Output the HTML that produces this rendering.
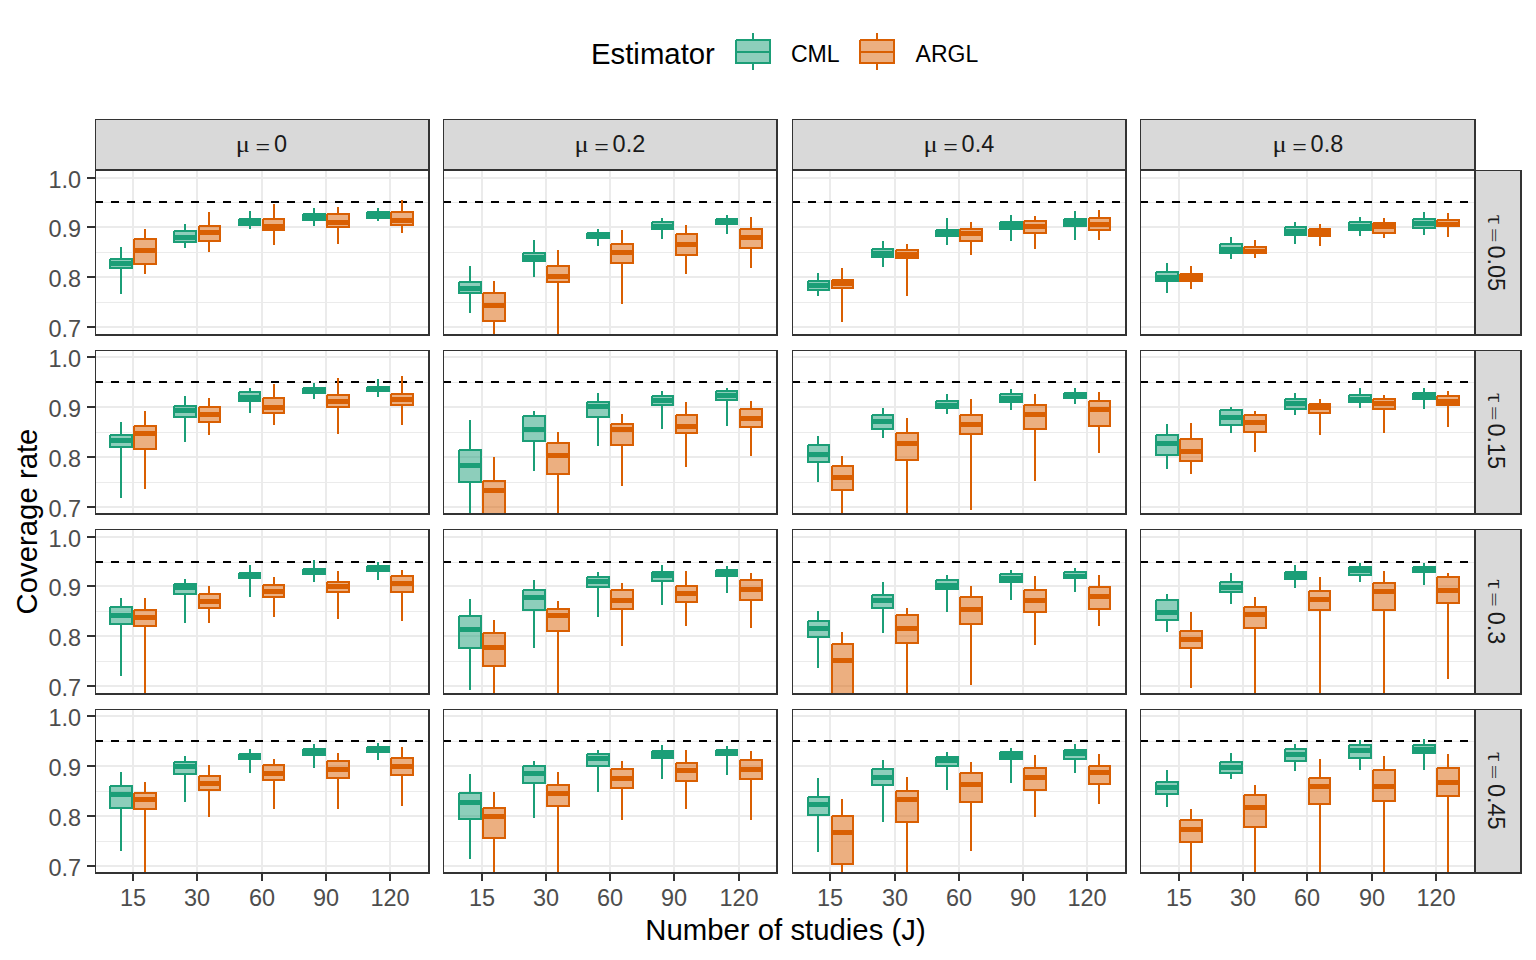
<!DOCTYPE html>
<html lang="en"><head><meta charset="utf-8"><title>Coverage rate by number of studies</title>
<style>html,body{margin:0;padding:0;background:#fff}svg{display:block}text{white-space:pre}</style></head>
<body><svg width="1536" height="960" viewBox="0 0 1536 960">
<rect width="1536" height="960" fill="#fff"/>
<g shape-rendering="crispEdges">
<defs>
<clipPath id="c00"><rect x="95" y="170" width="335" height="166"/></clipPath>
<clipPath id="c01"><rect x="443" y="170" width="335" height="166"/></clipPath>
<clipPath id="c02"><rect x="792" y="170" width="335" height="166"/></clipPath>
<clipPath id="c03"><rect x="1140" y="170" width="336" height="166"/></clipPath>
<clipPath id="c10"><rect x="95" y="350" width="335" height="165"/></clipPath>
<clipPath id="c11"><rect x="443" y="350" width="335" height="165"/></clipPath>
<clipPath id="c12"><rect x="792" y="350" width="335" height="165"/></clipPath>
<clipPath id="c13"><rect x="1140" y="350" width="336" height="165"/></clipPath>
<clipPath id="c20"><rect x="95" y="529" width="335" height="166"/></clipPath>
<clipPath id="c21"><rect x="443" y="529" width="335" height="166"/></clipPath>
<clipPath id="c22"><rect x="792" y="529" width="335" height="166"/></clipPath>
<clipPath id="c23"><rect x="1140" y="529" width="336" height="166"/></clipPath>
<clipPath id="c30"><rect x="95" y="709" width="335" height="165"/></clipPath>
<clipPath id="c31"><rect x="443" y="709" width="335" height="165"/></clipPath>
<clipPath id="c32"><rect x="792" y="709" width="335" height="165"/></clipPath>
<clipPath id="c33"><rect x="1140" y="709" width="336" height="165"/></clipPath>
</defs>
<rect x="95" y="119" width="335" height="51" fill="#D9D9D9"/>
<rect x="95" y="119" width="335" height="1" fill="#333333"/>
<rect x="95" y="119" width="1" height="51" fill="#333333"/>
<rect x="428" y="119" width="2" height="51" fill="#333333"/>
<rect x="95" y="169" width="335" height="1" fill="#333333"/>
<rect x="443" y="119" width="335" height="51" fill="#D9D9D9"/>
<rect x="443" y="119" width="335" height="1" fill="#333333"/>
<rect x="443" y="119" width="1" height="51" fill="#333333"/>
<rect x="776" y="119" width="2" height="51" fill="#333333"/>
<rect x="443" y="169" width="335" height="1" fill="#333333"/>
<rect x="792" y="119" width="335" height="51" fill="#D9D9D9"/>
<rect x="792" y="119" width="335" height="1" fill="#333333"/>
<rect x="792" y="119" width="1" height="51" fill="#333333"/>
<rect x="1125" y="119" width="2" height="51" fill="#333333"/>
<rect x="792" y="169" width="335" height="1" fill="#333333"/>
<rect x="1140" y="119" width="336" height="51" fill="#D9D9D9"/>
<rect x="1140" y="119" width="336" height="1" fill="#333333"/>
<rect x="1140" y="119" width="1" height="51" fill="#333333"/>
<rect x="1474" y="119" width="2" height="51" fill="#333333"/>
<rect x="1140" y="169" width="336" height="1" fill="#333333"/>
<rect x="1476" y="170" width="46" height="166" fill="#D9D9D9"/>
<rect x="1476" y="170" width="46" height="1" fill="#333333"/>
<rect x="1520" y="170" width="2" height="166" fill="#333333"/>
<rect x="1476" y="334" width="46" height="2" fill="#333333"/>
<rect x="1476" y="350" width="46" height="165" fill="#D9D9D9"/>
<rect x="1476" y="350" width="46" height="1" fill="#333333"/>
<rect x="1520" y="350" width="2" height="165" fill="#333333"/>
<rect x="1476" y="513" width="46" height="2" fill="#333333"/>
<rect x="1476" y="529" width="46" height="166" fill="#D9D9D9"/>
<rect x="1476" y="529" width="46" height="1" fill="#333333"/>
<rect x="1520" y="529" width="2" height="166" fill="#333333"/>
<rect x="1476" y="693" width="46" height="2" fill="#333333"/>
<rect x="1476" y="709" width="46" height="165" fill="#D9D9D9"/>
<rect x="1476" y="709" width="46" height="1" fill="#333333"/>
<rect x="1520" y="709" width="2" height="165" fill="#333333"/>
<rect x="1476" y="872" width="46" height="2" fill="#333333"/>
<g clip-path="url(#c00)">
<rect x="95" y="170" width="335" height="166" fill="#FFFFFF"/>
<rect x="95" y="202" width="335" height="1" fill="#EBEBEB"/>
<rect x="95" y="252" width="335" height="1" fill="#EBEBEB"/>
<rect x="95" y="302" width="335" height="1" fill="#EBEBEB"/>
<rect x="95" y="177" width="335" height="2" fill="#EBEBEB"/>
<rect x="95" y="226" width="335" height="2" fill="#EBEBEB"/>
<rect x="95" y="276" width="335" height="2" fill="#EBEBEB"/>
<rect x="95" y="326" width="335" height="2" fill="#EBEBEB"/>
<rect x="132" y="170" width="2" height="166" fill="#EBEBEB"/>
<rect x="196" y="170" width="2" height="166" fill="#EBEBEB"/>
<rect x="261" y="170" width="2" height="166" fill="#EBEBEB"/>
<rect x="325" y="170" width="2" height="166" fill="#EBEBEB"/>
<rect x="389" y="170" width="2" height="166" fill="#EBEBEB"/>
<rect x="95" y="201" width="8" height="2" fill="#000000"/>
<rect x="111" y="201" width="8" height="2" fill="#000000"/>
<rect x="127" y="201" width="8" height="2" fill="#000000"/>
<rect x="143" y="201" width="8" height="2" fill="#000000"/>
<rect x="159" y="201" width="8" height="2" fill="#000000"/>
<rect x="175" y="201" width="8" height="2" fill="#000000"/>
<rect x="191" y="201" width="8" height="2" fill="#000000"/>
<rect x="207" y="201" width="8" height="2" fill="#000000"/>
<rect x="223" y="201" width="8" height="2" fill="#000000"/>
<rect x="239" y="201" width="8" height="2" fill="#000000"/>
<rect x="255" y="201" width="8" height="2" fill="#000000"/>
<rect x="271" y="201" width="8" height="2" fill="#000000"/>
<rect x="287" y="201" width="8" height="2" fill="#000000"/>
<rect x="303" y="201" width="8" height="2" fill="#000000"/>
<rect x="319" y="201" width="8" height="2" fill="#000000"/>
<rect x="335" y="201" width="8" height="2" fill="#000000"/>
<rect x="351" y="201" width="8" height="2" fill="#000000"/>
<rect x="367" y="201" width="8" height="2" fill="#000000"/>
<rect x="383" y="201" width="8" height="2" fill="#000000"/>
<rect x="399" y="201" width="8" height="2" fill="#000000"/>
<rect x="415" y="201" width="8" height="2" fill="#000000"/>
<rect x="120" y="247" width="2" height="11" fill="#1B9E77"/>
<rect x="120" y="269" width="2" height="25" fill="#1B9E77"/>
<rect x="110" y="259" width="22" height="9" fill="#1B9E77" fill-opacity="0.5"/>
<rect x="110" y="258" width="23" height="1" fill="#1B9E77"/>
<rect x="109" y="259" width="24" height="1" fill="#1B9E77"/>
<rect x="109" y="267" width="24" height="2" fill="#1B9E77"/>
<rect x="109" y="259" width="1" height="10" fill="#1B9E77"/>
<rect x="110" y="258" width="1" height="11" fill="#1B9E77"/>
<rect x="131" y="258" width="2" height="11" fill="#1B9E77"/>
<rect x="109" y="261" width="24" height="5" fill="#1B9E77"/>
<rect x="144" y="229" width="2" height="9" fill="#D95F02"/>
<rect x="144" y="265" width="2" height="9" fill="#D95F02"/>
<rect x="134" y="239" width="22" height="25" fill="#D95F02" fill-opacity="0.5"/>
<rect x="134" y="238" width="23" height="1" fill="#D95F02"/>
<rect x="133" y="239" width="24" height="1" fill="#D95F02"/>
<rect x="133" y="263" width="24" height="2" fill="#D95F02"/>
<rect x="133" y="239" width="1" height="26" fill="#D95F02"/>
<rect x="134" y="238" width="1" height="27" fill="#D95F02"/>
<rect x="155" y="238" width="2" height="27" fill="#D95F02"/>
<rect x="133" y="248" width="24" height="5" fill="#D95F02"/>
<rect x="184" y="224" width="2" height="6" fill="#1B9E77"/>
<rect x="184" y="243" width="2" height="5" fill="#1B9E77"/>
<rect x="174" y="231" width="22" height="11" fill="#1B9E77" fill-opacity="0.5"/>
<rect x="174" y="230" width="23" height="1" fill="#1B9E77"/>
<rect x="173" y="231" width="24" height="1" fill="#1B9E77"/>
<rect x="173" y="241" width="24" height="2" fill="#1B9E77"/>
<rect x="173" y="231" width="1" height="12" fill="#1B9E77"/>
<rect x="174" y="230" width="1" height="13" fill="#1B9E77"/>
<rect x="195" y="230" width="2" height="13" fill="#1B9E77"/>
<rect x="173" y="235" width="24" height="5" fill="#1B9E77"/>
<rect x="208" y="212" width="2" height="13" fill="#D95F02"/>
<rect x="208" y="242" width="2" height="10" fill="#D95F02"/>
<rect x="199" y="226" width="21" height="15" fill="#D95F02" fill-opacity="0.5"/>
<rect x="199" y="225" width="22" height="1" fill="#D95F02"/>
<rect x="198" y="226" width="23" height="1" fill="#D95F02"/>
<rect x="198" y="240" width="23" height="2" fill="#D95F02"/>
<rect x="198" y="226" width="1" height="16" fill="#D95F02"/>
<rect x="199" y="225" width="1" height="17" fill="#D95F02"/>
<rect x="219" y="225" width="2" height="17" fill="#D95F02"/>
<rect x="198" y="230" width="23" height="5" fill="#D95F02"/>
<rect x="249" y="211" width="2" height="7" fill="#1B9E77"/>
<rect x="249" y="226" width="2" height="3" fill="#1B9E77"/>
<rect x="239" y="219" width="21" height="6" fill="#1B9E77" fill-opacity="0.5"/>
<rect x="239" y="218" width="22" height="1" fill="#1B9E77"/>
<rect x="238" y="219" width="23" height="1" fill="#1B9E77"/>
<rect x="238" y="224" width="23" height="2" fill="#1B9E77"/>
<rect x="238" y="219" width="1" height="7" fill="#1B9E77"/>
<rect x="239" y="218" width="1" height="8" fill="#1B9E77"/>
<rect x="259" y="218" width="2" height="8" fill="#1B9E77"/>
<rect x="238" y="219" width="23" height="5" fill="#1B9E77"/>
<rect x="273" y="204" width="2" height="14" fill="#D95F02"/>
<rect x="273" y="231" width="2" height="14" fill="#D95F02"/>
<rect x="263" y="219" width="21" height="11" fill="#D95F02" fill-opacity="0.5"/>
<rect x="263" y="218" width="22" height="1" fill="#D95F02"/>
<rect x="262" y="219" width="23" height="1" fill="#D95F02"/>
<rect x="262" y="229" width="23" height="2" fill="#D95F02"/>
<rect x="262" y="219" width="1" height="12" fill="#D95F02"/>
<rect x="263" y="218" width="1" height="13" fill="#D95F02"/>
<rect x="283" y="218" width="2" height="13" fill="#D95F02"/>
<rect x="262" y="224" width="23" height="5" fill="#D95F02"/>
<rect x="313" y="208" width="2" height="5" fill="#1B9E77"/>
<rect x="313" y="221" width="2" height="5" fill="#1B9E77"/>
<rect x="303" y="214" width="22" height="6" fill="#1B9E77" fill-opacity="0.5"/>
<rect x="303" y="213" width="23" height="1" fill="#1B9E77"/>
<rect x="302" y="214" width="24" height="1" fill="#1B9E77"/>
<rect x="302" y="219" width="24" height="2" fill="#1B9E77"/>
<rect x="302" y="214" width="1" height="7" fill="#1B9E77"/>
<rect x="303" y="213" width="1" height="8" fill="#1B9E77"/>
<rect x="324" y="213" width="2" height="8" fill="#1B9E77"/>
<rect x="302" y="214" width="24" height="5" fill="#1B9E77"/>
<rect x="337" y="207" width="2" height="6" fill="#D95F02"/>
<rect x="337" y="228" width="2" height="16" fill="#D95F02"/>
<rect x="327" y="214" width="22" height="13" fill="#D95F02" fill-opacity="0.5"/>
<rect x="327" y="213" width="23" height="1" fill="#D95F02"/>
<rect x="326" y="214" width="24" height="1" fill="#D95F02"/>
<rect x="326" y="226" width="24" height="2" fill="#D95F02"/>
<rect x="326" y="214" width="1" height="14" fill="#D95F02"/>
<rect x="327" y="213" width="1" height="15" fill="#D95F02"/>
<rect x="348" y="213" width="2" height="15" fill="#D95F02"/>
<rect x="326" y="220" width="24" height="5" fill="#D95F02"/>
<rect x="377" y="208" width="2" height="3" fill="#1B9E77"/>
<rect x="377" y="219" width="2" height="2" fill="#1B9E77"/>
<rect x="367" y="212" width="22" height="6" fill="#1B9E77" fill-opacity="0.5"/>
<rect x="367" y="211" width="23" height="1" fill="#1B9E77"/>
<rect x="366" y="212" width="24" height="1" fill="#1B9E77"/>
<rect x="366" y="217" width="24" height="2" fill="#1B9E77"/>
<rect x="366" y="212" width="1" height="7" fill="#1B9E77"/>
<rect x="367" y="211" width="1" height="8" fill="#1B9E77"/>
<rect x="388" y="211" width="2" height="8" fill="#1B9E77"/>
<rect x="366" y="213" width="24" height="5" fill="#1B9E77"/>
<rect x="401" y="200" width="2" height="11" fill="#D95F02"/>
<rect x="401" y="226" width="2" height="7" fill="#D95F02"/>
<rect x="391" y="212" width="22" height="13" fill="#D95F02" fill-opacity="0.5"/>
<rect x="391" y="211" width="23" height="1" fill="#D95F02"/>
<rect x="390" y="212" width="24" height="1" fill="#D95F02"/>
<rect x="390" y="224" width="24" height="2" fill="#D95F02"/>
<rect x="390" y="212" width="1" height="14" fill="#D95F02"/>
<rect x="391" y="211" width="1" height="15" fill="#D95F02"/>
<rect x="412" y="211" width="2" height="15" fill="#D95F02"/>
<rect x="390" y="218" width="24" height="5" fill="#D95F02"/>
</g>
<rect x="95" y="170" width="335" height="1" fill="#333333"/>
<rect x="95" y="170" width="1" height="166" fill="#333333"/>
<rect x="428" y="170" width="2" height="166" fill="#333333"/>
<rect x="95" y="334" width="335" height="2" fill="#333333"/>
<g clip-path="url(#c01)">
<rect x="443" y="170" width="335" height="166" fill="#FFFFFF"/>
<rect x="443" y="202" width="335" height="1" fill="#EBEBEB"/>
<rect x="443" y="252" width="335" height="1" fill="#EBEBEB"/>
<rect x="443" y="302" width="335" height="1" fill="#EBEBEB"/>
<rect x="443" y="177" width="335" height="2" fill="#EBEBEB"/>
<rect x="443" y="226" width="335" height="2" fill="#EBEBEB"/>
<rect x="443" y="276" width="335" height="2" fill="#EBEBEB"/>
<rect x="443" y="326" width="335" height="2" fill="#EBEBEB"/>
<rect x="481" y="170" width="2" height="166" fill="#EBEBEB"/>
<rect x="545" y="170" width="2" height="166" fill="#EBEBEB"/>
<rect x="609" y="170" width="2" height="166" fill="#EBEBEB"/>
<rect x="673" y="170" width="2" height="166" fill="#EBEBEB"/>
<rect x="738" y="170" width="2" height="166" fill="#EBEBEB"/>
<rect x="443" y="201" width="8" height="2" fill="#000000"/>
<rect x="459" y="201" width="8" height="2" fill="#000000"/>
<rect x="475" y="201" width="8" height="2" fill="#000000"/>
<rect x="491" y="201" width="8" height="2" fill="#000000"/>
<rect x="507" y="201" width="8" height="2" fill="#000000"/>
<rect x="523" y="201" width="8" height="2" fill="#000000"/>
<rect x="539" y="201" width="8" height="2" fill="#000000"/>
<rect x="555" y="201" width="8" height="2" fill="#000000"/>
<rect x="571" y="201" width="8" height="2" fill="#000000"/>
<rect x="587" y="201" width="8" height="2" fill="#000000"/>
<rect x="603" y="201" width="8" height="2" fill="#000000"/>
<rect x="619" y="201" width="8" height="2" fill="#000000"/>
<rect x="635" y="201" width="8" height="2" fill="#000000"/>
<rect x="651" y="201" width="8" height="2" fill="#000000"/>
<rect x="667" y="201" width="8" height="2" fill="#000000"/>
<rect x="683" y="201" width="8" height="2" fill="#000000"/>
<rect x="699" y="201" width="8" height="2" fill="#000000"/>
<rect x="715" y="201" width="8" height="2" fill="#000000"/>
<rect x="731" y="201" width="8" height="2" fill="#000000"/>
<rect x="747" y="201" width="8" height="2" fill="#000000"/>
<rect x="763" y="201" width="8" height="2" fill="#000000"/>
<rect x="469" y="266" width="2" height="15" fill="#1B9E77"/>
<rect x="469" y="294" width="2" height="19" fill="#1B9E77"/>
<rect x="459" y="282" width="22" height="11" fill="#1B9E77" fill-opacity="0.5"/>
<rect x="459" y="281" width="23" height="1" fill="#1B9E77"/>
<rect x="458" y="282" width="24" height="1" fill="#1B9E77"/>
<rect x="458" y="292" width="24" height="2" fill="#1B9E77"/>
<rect x="458" y="282" width="1" height="12" fill="#1B9E77"/>
<rect x="459" y="281" width="1" height="13" fill="#1B9E77"/>
<rect x="480" y="281" width="2" height="13" fill="#1B9E77"/>
<rect x="458" y="286" width="24" height="5" fill="#1B9E77"/>
<rect x="493" y="281" width="2" height="11" fill="#D95F02"/>
<rect x="493" y="322" width="2" height="583" fill="#D95F02"/>
<rect x="483" y="293" width="22" height="28" fill="#D95F02" fill-opacity="0.5"/>
<rect x="483" y="292" width="23" height="1" fill="#D95F02"/>
<rect x="482" y="293" width="24" height="1" fill="#D95F02"/>
<rect x="482" y="320" width="24" height="2" fill="#D95F02"/>
<rect x="482" y="293" width="1" height="29" fill="#D95F02"/>
<rect x="483" y="292" width="1" height="30" fill="#D95F02"/>
<rect x="504" y="292" width="2" height="30" fill="#D95F02"/>
<rect x="482" y="303" width="24" height="5" fill="#D95F02"/>
<rect x="533" y="240" width="2" height="12" fill="#1B9E77"/>
<rect x="533" y="262" width="2" height="15" fill="#1B9E77"/>
<rect x="523" y="253" width="22" height="8" fill="#1B9E77" fill-opacity="0.5"/>
<rect x="523" y="252" width="23" height="1" fill="#1B9E77"/>
<rect x="522" y="253" width="24" height="1" fill="#1B9E77"/>
<rect x="522" y="260" width="24" height="2" fill="#1B9E77"/>
<rect x="522" y="253" width="1" height="9" fill="#1B9E77"/>
<rect x="523" y="252" width="1" height="10" fill="#1B9E77"/>
<rect x="544" y="252" width="2" height="10" fill="#1B9E77"/>
<rect x="522" y="255" width="24" height="5" fill="#1B9E77"/>
<rect x="557" y="250" width="2" height="15" fill="#D95F02"/>
<rect x="557" y="283" width="2" height="622" fill="#D95F02"/>
<rect x="547" y="266" width="22" height="16" fill="#D95F02" fill-opacity="0.5"/>
<rect x="547" y="265" width="23" height="1" fill="#D95F02"/>
<rect x="546" y="266" width="24" height="1" fill="#D95F02"/>
<rect x="546" y="281" width="24" height="2" fill="#D95F02"/>
<rect x="546" y="266" width="1" height="17" fill="#D95F02"/>
<rect x="547" y="265" width="1" height="18" fill="#D95F02"/>
<rect x="568" y="265" width="2" height="18" fill="#D95F02"/>
<rect x="546" y="274" width="24" height="5" fill="#D95F02"/>
<rect x="597" y="229" width="2" height="3" fill="#1B9E77"/>
<rect x="597" y="239" width="2" height="7" fill="#1B9E77"/>
<rect x="587" y="233" width="22" height="5" fill="#1B9E77" fill-opacity="0.5"/>
<rect x="587" y="232" width="23" height="1" fill="#1B9E77"/>
<rect x="586" y="233" width="24" height="1" fill="#1B9E77"/>
<rect x="586" y="237" width="24" height="2" fill="#1B9E77"/>
<rect x="586" y="233" width="1" height="6" fill="#1B9E77"/>
<rect x="587" y="232" width="1" height="7" fill="#1B9E77"/>
<rect x="608" y="232" width="2" height="7" fill="#1B9E77"/>
<rect x="586" y="233" width="24" height="5" fill="#1B9E77"/>
<rect x="621" y="230" width="2" height="13" fill="#D95F02"/>
<rect x="621" y="264" width="2" height="40" fill="#D95F02"/>
<rect x="611" y="244" width="22" height="19" fill="#D95F02" fill-opacity="0.5"/>
<rect x="611" y="243" width="23" height="1" fill="#D95F02"/>
<rect x="610" y="244" width="24" height="1" fill="#D95F02"/>
<rect x="610" y="262" width="24" height="2" fill="#D95F02"/>
<rect x="610" y="244" width="1" height="20" fill="#D95F02"/>
<rect x="611" y="243" width="1" height="21" fill="#D95F02"/>
<rect x="632" y="243" width="2" height="21" fill="#D95F02"/>
<rect x="610" y="250" width="24" height="5" fill="#D95F02"/>
<rect x="661" y="218" width="2" height="3" fill="#1B9E77"/>
<rect x="661" y="230" width="2" height="9" fill="#1B9E77"/>
<rect x="652" y="222" width="21" height="7" fill="#1B9E77" fill-opacity="0.5"/>
<rect x="652" y="221" width="22" height="1" fill="#1B9E77"/>
<rect x="651" y="222" width="23" height="1" fill="#1B9E77"/>
<rect x="651" y="228" width="23" height="2" fill="#1B9E77"/>
<rect x="651" y="222" width="1" height="8" fill="#1B9E77"/>
<rect x="652" y="221" width="1" height="9" fill="#1B9E77"/>
<rect x="672" y="221" width="2" height="9" fill="#1B9E77"/>
<rect x="651" y="224" width="23" height="5" fill="#1B9E77"/>
<rect x="685" y="225" width="2" height="8" fill="#D95F02"/>
<rect x="685" y="256" width="2" height="18" fill="#D95F02"/>
<rect x="676" y="234" width="21" height="21" fill="#D95F02" fill-opacity="0.5"/>
<rect x="676" y="233" width="22" height="1" fill="#D95F02"/>
<rect x="675" y="234" width="23" height="1" fill="#D95F02"/>
<rect x="675" y="254" width="23" height="2" fill="#D95F02"/>
<rect x="675" y="234" width="1" height="22" fill="#D95F02"/>
<rect x="676" y="233" width="1" height="23" fill="#D95F02"/>
<rect x="696" y="233" width="2" height="23" fill="#D95F02"/>
<rect x="675" y="242" width="23" height="5" fill="#D95F02"/>
<rect x="726" y="215" width="2" height="3" fill="#1B9E77"/>
<rect x="726" y="225" width="2" height="9" fill="#1B9E77"/>
<rect x="716" y="219" width="21" height="5" fill="#1B9E77" fill-opacity="0.5"/>
<rect x="716" y="218" width="22" height="1" fill="#1B9E77"/>
<rect x="715" y="219" width="23" height="1" fill="#1B9E77"/>
<rect x="715" y="223" width="23" height="2" fill="#1B9E77"/>
<rect x="715" y="219" width="1" height="6" fill="#1B9E77"/>
<rect x="716" y="218" width="1" height="7" fill="#1B9E77"/>
<rect x="736" y="218" width="2" height="7" fill="#1B9E77"/>
<rect x="715" y="219" width="23" height="5" fill="#1B9E77"/>
<rect x="750" y="217" width="2" height="11" fill="#D95F02"/>
<rect x="750" y="249" width="2" height="19" fill="#D95F02"/>
<rect x="740" y="229" width="22" height="19" fill="#D95F02" fill-opacity="0.5"/>
<rect x="740" y="228" width="23" height="1" fill="#D95F02"/>
<rect x="739" y="229" width="24" height="1" fill="#D95F02"/>
<rect x="739" y="247" width="24" height="2" fill="#D95F02"/>
<rect x="739" y="229" width="1" height="20" fill="#D95F02"/>
<rect x="740" y="228" width="1" height="21" fill="#D95F02"/>
<rect x="761" y="228" width="2" height="21" fill="#D95F02"/>
<rect x="739" y="235" width="24" height="5" fill="#D95F02"/>
</g>
<rect x="443" y="170" width="335" height="1" fill="#333333"/>
<rect x="443" y="170" width="1" height="166" fill="#333333"/>
<rect x="776" y="170" width="2" height="166" fill="#333333"/>
<rect x="443" y="334" width="335" height="2" fill="#333333"/>
<g clip-path="url(#c02)">
<rect x="792" y="170" width="335" height="166" fill="#FFFFFF"/>
<rect x="792" y="202" width="335" height="1" fill="#EBEBEB"/>
<rect x="792" y="252" width="335" height="1" fill="#EBEBEB"/>
<rect x="792" y="302" width="335" height="1" fill="#EBEBEB"/>
<rect x="792" y="177" width="335" height="2" fill="#EBEBEB"/>
<rect x="792" y="226" width="335" height="2" fill="#EBEBEB"/>
<rect x="792" y="276" width="335" height="2" fill="#EBEBEB"/>
<rect x="792" y="326" width="335" height="2" fill="#EBEBEB"/>
<rect x="829" y="170" width="2" height="166" fill="#EBEBEB"/>
<rect x="894" y="170" width="2" height="166" fill="#EBEBEB"/>
<rect x="958" y="170" width="2" height="166" fill="#EBEBEB"/>
<rect x="1022" y="170" width="2" height="166" fill="#EBEBEB"/>
<rect x="1086" y="170" width="2" height="166" fill="#EBEBEB"/>
<rect x="792" y="201" width="8" height="2" fill="#000000"/>
<rect x="808" y="201" width="8" height="2" fill="#000000"/>
<rect x="824" y="201" width="8" height="2" fill="#000000"/>
<rect x="840" y="201" width="8" height="2" fill="#000000"/>
<rect x="856" y="201" width="8" height="2" fill="#000000"/>
<rect x="872" y="201" width="8" height="2" fill="#000000"/>
<rect x="888" y="201" width="8" height="2" fill="#000000"/>
<rect x="904" y="201" width="8" height="2" fill="#000000"/>
<rect x="920" y="201" width="8" height="2" fill="#000000"/>
<rect x="936" y="201" width="8" height="2" fill="#000000"/>
<rect x="952" y="201" width="8" height="2" fill="#000000"/>
<rect x="968" y="201" width="8" height="2" fill="#000000"/>
<rect x="984" y="201" width="8" height="2" fill="#000000"/>
<rect x="1000" y="201" width="8" height="2" fill="#000000"/>
<rect x="1016" y="201" width="8" height="2" fill="#000000"/>
<rect x="1032" y="201" width="8" height="2" fill="#000000"/>
<rect x="1048" y="201" width="8" height="2" fill="#000000"/>
<rect x="1064" y="201" width="8" height="2" fill="#000000"/>
<rect x="1080" y="201" width="8" height="2" fill="#000000"/>
<rect x="1096" y="201" width="8" height="2" fill="#000000"/>
<rect x="1112" y="201" width="8" height="2" fill="#000000"/>
<rect x="817" y="273" width="2" height="7" fill="#1B9E77"/>
<rect x="817" y="291" width="2" height="5" fill="#1B9E77"/>
<rect x="808" y="281" width="21" height="9" fill="#1B9E77" fill-opacity="0.5"/>
<rect x="808" y="280" width="22" height="1" fill="#1B9E77"/>
<rect x="807" y="281" width="23" height="1" fill="#1B9E77"/>
<rect x="807" y="289" width="23" height="2" fill="#1B9E77"/>
<rect x="807" y="281" width="1" height="10" fill="#1B9E77"/>
<rect x="808" y="280" width="1" height="11" fill="#1B9E77"/>
<rect x="828" y="280" width="2" height="11" fill="#1B9E77"/>
<rect x="807" y="283" width="23" height="5" fill="#1B9E77"/>
<rect x="841" y="268" width="2" height="11" fill="#D95F02"/>
<rect x="841" y="289" width="2" height="33" fill="#D95F02"/>
<rect x="832" y="280" width="21" height="8" fill="#D95F02" fill-opacity="0.5"/>
<rect x="832" y="279" width="22" height="1" fill="#D95F02"/>
<rect x="831" y="280" width="23" height="1" fill="#D95F02"/>
<rect x="831" y="287" width="23" height="2" fill="#D95F02"/>
<rect x="831" y="280" width="1" height="9" fill="#D95F02"/>
<rect x="832" y="279" width="1" height="10" fill="#D95F02"/>
<rect x="852" y="279" width="2" height="10" fill="#D95F02"/>
<rect x="831" y="281" width="23" height="5" fill="#D95F02"/>
<rect x="882" y="241" width="2" height="7" fill="#1B9E77"/>
<rect x="882" y="258" width="2" height="9" fill="#1B9E77"/>
<rect x="872" y="249" width="21" height="8" fill="#1B9E77" fill-opacity="0.5"/>
<rect x="872" y="248" width="22" height="1" fill="#1B9E77"/>
<rect x="871" y="249" width="23" height="1" fill="#1B9E77"/>
<rect x="871" y="256" width="23" height="2" fill="#1B9E77"/>
<rect x="871" y="249" width="1" height="9" fill="#1B9E77"/>
<rect x="872" y="248" width="1" height="10" fill="#1B9E77"/>
<rect x="892" y="248" width="2" height="10" fill="#1B9E77"/>
<rect x="871" y="251" width="23" height="5" fill="#1B9E77"/>
<rect x="906" y="244" width="2" height="5" fill="#D95F02"/>
<rect x="906" y="259" width="2" height="37" fill="#D95F02"/>
<rect x="896" y="250" width="22" height="8" fill="#D95F02" fill-opacity="0.5"/>
<rect x="896" y="249" width="23" height="1" fill="#D95F02"/>
<rect x="895" y="250" width="24" height="1" fill="#D95F02"/>
<rect x="895" y="257" width="24" height="2" fill="#D95F02"/>
<rect x="895" y="250" width="1" height="9" fill="#D95F02"/>
<rect x="896" y="249" width="1" height="10" fill="#D95F02"/>
<rect x="917" y="249" width="2" height="10" fill="#D95F02"/>
<rect x="895" y="252" width="24" height="5" fill="#D95F02"/>
<rect x="946" y="218" width="2" height="11" fill="#1B9E77"/>
<rect x="946" y="237" width="2" height="8" fill="#1B9E77"/>
<rect x="936" y="230" width="22" height="6" fill="#1B9E77" fill-opacity="0.5"/>
<rect x="936" y="229" width="23" height="1" fill="#1B9E77"/>
<rect x="935" y="230" width="24" height="1" fill="#1B9E77"/>
<rect x="935" y="235" width="24" height="2" fill="#1B9E77"/>
<rect x="935" y="230" width="1" height="7" fill="#1B9E77"/>
<rect x="936" y="229" width="1" height="8" fill="#1B9E77"/>
<rect x="957" y="229" width="2" height="8" fill="#1B9E77"/>
<rect x="935" y="230" width="24" height="5" fill="#1B9E77"/>
<rect x="970" y="222" width="2" height="6" fill="#D95F02"/>
<rect x="970" y="242" width="2" height="13" fill="#D95F02"/>
<rect x="960" y="229" width="22" height="12" fill="#D95F02" fill-opacity="0.5"/>
<rect x="960" y="228" width="23" height="1" fill="#D95F02"/>
<rect x="959" y="229" width="24" height="1" fill="#D95F02"/>
<rect x="959" y="240" width="24" height="2" fill="#D95F02"/>
<rect x="959" y="229" width="1" height="13" fill="#D95F02"/>
<rect x="960" y="228" width="1" height="14" fill="#D95F02"/>
<rect x="981" y="228" width="2" height="14" fill="#D95F02"/>
<rect x="959" y="231" width="24" height="5" fill="#D95F02"/>
<rect x="1010" y="215" width="2" height="6" fill="#1B9E77"/>
<rect x="1010" y="230" width="2" height="11" fill="#1B9E77"/>
<rect x="1000" y="222" width="22" height="7" fill="#1B9E77" fill-opacity="0.5"/>
<rect x="1000" y="221" width="23" height="1" fill="#1B9E77"/>
<rect x="999" y="222" width="24" height="1" fill="#1B9E77"/>
<rect x="999" y="228" width="24" height="2" fill="#1B9E77"/>
<rect x="999" y="222" width="1" height="8" fill="#1B9E77"/>
<rect x="1000" y="221" width="1" height="9" fill="#1B9E77"/>
<rect x="1021" y="221" width="2" height="9" fill="#1B9E77"/>
<rect x="999" y="223" width="24" height="5" fill="#1B9E77"/>
<rect x="1034" y="216" width="2" height="4" fill="#D95F02"/>
<rect x="1034" y="234" width="2" height="15" fill="#D95F02"/>
<rect x="1024" y="221" width="22" height="12" fill="#D95F02" fill-opacity="0.5"/>
<rect x="1024" y="220" width="23" height="1" fill="#D95F02"/>
<rect x="1023" y="221" width="24" height="1" fill="#D95F02"/>
<rect x="1023" y="232" width="24" height="2" fill="#D95F02"/>
<rect x="1023" y="221" width="1" height="13" fill="#D95F02"/>
<rect x="1024" y="220" width="1" height="14" fill="#D95F02"/>
<rect x="1045" y="220" width="2" height="14" fill="#D95F02"/>
<rect x="1023" y="224" width="24" height="5" fill="#D95F02"/>
<rect x="1074" y="211" width="2" height="7" fill="#1B9E77"/>
<rect x="1074" y="227" width="2" height="13" fill="#1B9E77"/>
<rect x="1064" y="219" width="22" height="7" fill="#1B9E77" fill-opacity="0.5"/>
<rect x="1064" y="218" width="23" height="1" fill="#1B9E77"/>
<rect x="1063" y="219" width="24" height="1" fill="#1B9E77"/>
<rect x="1063" y="225" width="24" height="2" fill="#1B9E77"/>
<rect x="1063" y="219" width="1" height="8" fill="#1B9E77"/>
<rect x="1064" y="218" width="1" height="9" fill="#1B9E77"/>
<rect x="1085" y="218" width="2" height="9" fill="#1B9E77"/>
<rect x="1063" y="220" width="24" height="5" fill="#1B9E77"/>
<rect x="1098" y="210" width="2" height="7" fill="#D95F02"/>
<rect x="1098" y="231" width="2" height="9" fill="#D95F02"/>
<rect x="1089" y="218" width="21" height="12" fill="#D95F02" fill-opacity="0.5"/>
<rect x="1089" y="217" width="22" height="1" fill="#D95F02"/>
<rect x="1088" y="218" width="23" height="1" fill="#D95F02"/>
<rect x="1088" y="229" width="23" height="2" fill="#D95F02"/>
<rect x="1088" y="218" width="1" height="13" fill="#D95F02"/>
<rect x="1089" y="217" width="1" height="14" fill="#D95F02"/>
<rect x="1109" y="217" width="2" height="14" fill="#D95F02"/>
<rect x="1088" y="222" width="23" height="5" fill="#D95F02"/>
</g>
<rect x="792" y="170" width="335" height="1" fill="#333333"/>
<rect x="792" y="170" width="1" height="166" fill="#333333"/>
<rect x="1125" y="170" width="2" height="166" fill="#333333"/>
<rect x="792" y="334" width="335" height="2" fill="#333333"/>
<g clip-path="url(#c03)">
<rect x="1140" y="170" width="336" height="166" fill="#FFFFFF"/>
<rect x="1140" y="202" width="336" height="1" fill="#EBEBEB"/>
<rect x="1140" y="252" width="336" height="1" fill="#EBEBEB"/>
<rect x="1140" y="302" width="336" height="1" fill="#EBEBEB"/>
<rect x="1140" y="177" width="336" height="2" fill="#EBEBEB"/>
<rect x="1140" y="226" width="336" height="2" fill="#EBEBEB"/>
<rect x="1140" y="276" width="336" height="2" fill="#EBEBEB"/>
<rect x="1140" y="326" width="336" height="2" fill="#EBEBEB"/>
<rect x="1178" y="170" width="2" height="166" fill="#EBEBEB"/>
<rect x="1242" y="170" width="2" height="166" fill="#EBEBEB"/>
<rect x="1306" y="170" width="2" height="166" fill="#EBEBEB"/>
<rect x="1371" y="170" width="2" height="166" fill="#EBEBEB"/>
<rect x="1435" y="170" width="2" height="166" fill="#EBEBEB"/>
<rect x="1140" y="201" width="8" height="2" fill="#000000"/>
<rect x="1156" y="201" width="8" height="2" fill="#000000"/>
<rect x="1172" y="201" width="8" height="2" fill="#000000"/>
<rect x="1188" y="201" width="8" height="2" fill="#000000"/>
<rect x="1204" y="201" width="8" height="2" fill="#000000"/>
<rect x="1220" y="201" width="8" height="2" fill="#000000"/>
<rect x="1236" y="201" width="8" height="2" fill="#000000"/>
<rect x="1252" y="201" width="8" height="2" fill="#000000"/>
<rect x="1268" y="201" width="8" height="2" fill="#000000"/>
<rect x="1284" y="201" width="8" height="2" fill="#000000"/>
<rect x="1300" y="201" width="8" height="2" fill="#000000"/>
<rect x="1316" y="201" width="8" height="2" fill="#000000"/>
<rect x="1332" y="201" width="8" height="2" fill="#000000"/>
<rect x="1348" y="201" width="8" height="2" fill="#000000"/>
<rect x="1364" y="201" width="8" height="2" fill="#000000"/>
<rect x="1380" y="201" width="8" height="2" fill="#000000"/>
<rect x="1396" y="201" width="8" height="2" fill="#000000"/>
<rect x="1412" y="201" width="8" height="2" fill="#000000"/>
<rect x="1428" y="201" width="8" height="2" fill="#000000"/>
<rect x="1444" y="201" width="8" height="2" fill="#000000"/>
<rect x="1460" y="201" width="8" height="2" fill="#000000"/>
<rect x="1166" y="263" width="2" height="8" fill="#1B9E77"/>
<rect x="1166" y="282" width="2" height="11" fill="#1B9E77"/>
<rect x="1156" y="272" width="22" height="9" fill="#1B9E77" fill-opacity="0.5"/>
<rect x="1156" y="271" width="23" height="1" fill="#1B9E77"/>
<rect x="1155" y="272" width="24" height="1" fill="#1B9E77"/>
<rect x="1155" y="280" width="24" height="2" fill="#1B9E77"/>
<rect x="1155" y="272" width="1" height="10" fill="#1B9E77"/>
<rect x="1156" y="271" width="1" height="11" fill="#1B9E77"/>
<rect x="1177" y="271" width="2" height="11" fill="#1B9E77"/>
<rect x="1155" y="275" width="24" height="5" fill="#1B9E77"/>
<rect x="1190" y="266" width="2" height="7" fill="#D95F02"/>
<rect x="1190" y="282" width="2" height="7" fill="#D95F02"/>
<rect x="1180" y="274" width="22" height="7" fill="#D95F02" fill-opacity="0.5"/>
<rect x="1180" y="273" width="23" height="1" fill="#D95F02"/>
<rect x="1179" y="274" width="24" height="1" fill="#D95F02"/>
<rect x="1179" y="280" width="24" height="2" fill="#D95F02"/>
<rect x="1179" y="274" width="1" height="8" fill="#D95F02"/>
<rect x="1180" y="273" width="1" height="9" fill="#D95F02"/>
<rect x="1201" y="273" width="2" height="9" fill="#D95F02"/>
<rect x="1179" y="275" width="24" height="5" fill="#D95F02"/>
<rect x="1230" y="237" width="2" height="6" fill="#1B9E77"/>
<rect x="1230" y="254" width="2" height="5" fill="#1B9E77"/>
<rect x="1220" y="244" width="22" height="9" fill="#1B9E77" fill-opacity="0.5"/>
<rect x="1220" y="243" width="23" height="1" fill="#1B9E77"/>
<rect x="1219" y="244" width="24" height="1" fill="#1B9E77"/>
<rect x="1219" y="252" width="24" height="2" fill="#1B9E77"/>
<rect x="1219" y="244" width="1" height="10" fill="#1B9E77"/>
<rect x="1220" y="243" width="1" height="11" fill="#1B9E77"/>
<rect x="1241" y="243" width="2" height="11" fill="#1B9E77"/>
<rect x="1219" y="247" width="24" height="5" fill="#1B9E77"/>
<rect x="1254" y="240" width="2" height="6" fill="#D95F02"/>
<rect x="1254" y="254" width="2" height="4" fill="#D95F02"/>
<rect x="1244" y="247" width="22" height="6" fill="#D95F02" fill-opacity="0.5"/>
<rect x="1244" y="246" width="23" height="1" fill="#D95F02"/>
<rect x="1243" y="247" width="24" height="1" fill="#D95F02"/>
<rect x="1243" y="252" width="24" height="2" fill="#D95F02"/>
<rect x="1243" y="247" width="1" height="7" fill="#D95F02"/>
<rect x="1244" y="246" width="1" height="8" fill="#D95F02"/>
<rect x="1265" y="246" width="2" height="8" fill="#D95F02"/>
<rect x="1243" y="249" width="24" height="5" fill="#D95F02"/>
<rect x="1294" y="222" width="2" height="4" fill="#1B9E77"/>
<rect x="1294" y="236" width="2" height="8" fill="#1B9E77"/>
<rect x="1285" y="227" width="21" height="8" fill="#1B9E77" fill-opacity="0.5"/>
<rect x="1285" y="226" width="22" height="1" fill="#1B9E77"/>
<rect x="1284" y="227" width="23" height="1" fill="#1B9E77"/>
<rect x="1284" y="234" width="23" height="2" fill="#1B9E77"/>
<rect x="1284" y="227" width="1" height="9" fill="#1B9E77"/>
<rect x="1285" y="226" width="1" height="10" fill="#1B9E77"/>
<rect x="1305" y="226" width="2" height="10" fill="#1B9E77"/>
<rect x="1284" y="229" width="23" height="5" fill="#1B9E77"/>
<rect x="1319" y="224" width="2" height="4" fill="#D95F02"/>
<rect x="1319" y="237" width="2" height="9" fill="#D95F02"/>
<rect x="1309" y="229" width="21" height="7" fill="#D95F02" fill-opacity="0.5"/>
<rect x="1309" y="228" width="22" height="1" fill="#D95F02"/>
<rect x="1308" y="229" width="23" height="1" fill="#D95F02"/>
<rect x="1308" y="235" width="23" height="2" fill="#D95F02"/>
<rect x="1308" y="229" width="1" height="8" fill="#D95F02"/>
<rect x="1309" y="228" width="1" height="9" fill="#D95F02"/>
<rect x="1329" y="228" width="2" height="9" fill="#D95F02"/>
<rect x="1308" y="230" width="23" height="5" fill="#D95F02"/>
<rect x="1359" y="217" width="2" height="4" fill="#1B9E77"/>
<rect x="1359" y="231" width="2" height="5" fill="#1B9E77"/>
<rect x="1349" y="222" width="22" height="8" fill="#1B9E77" fill-opacity="0.5"/>
<rect x="1349" y="221" width="23" height="1" fill="#1B9E77"/>
<rect x="1348" y="222" width="24" height="1" fill="#1B9E77"/>
<rect x="1348" y="229" width="24" height="2" fill="#1B9E77"/>
<rect x="1348" y="222" width="1" height="9" fill="#1B9E77"/>
<rect x="1349" y="221" width="1" height="10" fill="#1B9E77"/>
<rect x="1370" y="221" width="2" height="10" fill="#1B9E77"/>
<rect x="1348" y="224" width="24" height="5" fill="#1B9E77"/>
<rect x="1383" y="218" width="2" height="4" fill="#D95F02"/>
<rect x="1383" y="234" width="2" height="4" fill="#D95F02"/>
<rect x="1373" y="223" width="22" height="10" fill="#D95F02" fill-opacity="0.5"/>
<rect x="1373" y="222" width="23" height="1" fill="#D95F02"/>
<rect x="1372" y="223" width="24" height="1" fill="#D95F02"/>
<rect x="1372" y="232" width="24" height="2" fill="#D95F02"/>
<rect x="1372" y="223" width="1" height="11" fill="#D95F02"/>
<rect x="1373" y="222" width="1" height="12" fill="#D95F02"/>
<rect x="1394" y="222" width="2" height="12" fill="#D95F02"/>
<rect x="1372" y="224" width="24" height="5" fill="#D95F02"/>
<rect x="1423" y="212" width="2" height="6" fill="#1B9E77"/>
<rect x="1423" y="229" width="2" height="6" fill="#1B9E77"/>
<rect x="1413" y="219" width="22" height="9" fill="#1B9E77" fill-opacity="0.5"/>
<rect x="1413" y="218" width="23" height="1" fill="#1B9E77"/>
<rect x="1412" y="219" width="24" height="1" fill="#1B9E77"/>
<rect x="1412" y="227" width="24" height="2" fill="#1B9E77"/>
<rect x="1412" y="219" width="1" height="10" fill="#1B9E77"/>
<rect x="1413" y="218" width="1" height="11" fill="#1B9E77"/>
<rect x="1434" y="218" width="2" height="11" fill="#1B9E77"/>
<rect x="1412" y="221" width="24" height="5" fill="#1B9E77"/>
<rect x="1447" y="213" width="2" height="6" fill="#D95F02"/>
<rect x="1447" y="227" width="2" height="10" fill="#D95F02"/>
<rect x="1437" y="220" width="22" height="6" fill="#D95F02" fill-opacity="0.5"/>
<rect x="1437" y="219" width="23" height="1" fill="#D95F02"/>
<rect x="1436" y="220" width="24" height="1" fill="#D95F02"/>
<rect x="1436" y="225" width="24" height="2" fill="#D95F02"/>
<rect x="1436" y="220" width="1" height="7" fill="#D95F02"/>
<rect x="1437" y="219" width="1" height="8" fill="#D95F02"/>
<rect x="1458" y="219" width="2" height="8" fill="#D95F02"/>
<rect x="1436" y="222" width="24" height="5" fill="#D95F02"/>
</g>
<rect x="1140" y="170" width="336" height="1" fill="#333333"/>
<rect x="1140" y="170" width="1" height="166" fill="#333333"/>
<rect x="1474" y="170" width="2" height="166" fill="#333333"/>
<rect x="1140" y="334" width="336" height="2" fill="#333333"/>
<rect x="87" y="177" width="8" height="2" fill="#333333"/>
<rect x="87" y="226" width="8" height="2" fill="#333333"/>
<rect x="87" y="276" width="8" height="2" fill="#333333"/>
<rect x="87" y="326" width="8" height="2" fill="#333333"/>
<g clip-path="url(#c10)">
<rect x="95" y="350" width="335" height="165" fill="#FFFFFF"/>
<rect x="95" y="382" width="335" height="1" fill="#EBEBEB"/>
<rect x="95" y="432" width="335" height="1" fill="#EBEBEB"/>
<rect x="95" y="482" width="335" height="1" fill="#EBEBEB"/>
<rect x="95" y="356" width="335" height="2" fill="#EBEBEB"/>
<rect x="95" y="406" width="335" height="2" fill="#EBEBEB"/>
<rect x="95" y="456" width="335" height="2" fill="#EBEBEB"/>
<rect x="95" y="506" width="335" height="2" fill="#EBEBEB"/>
<rect x="132" y="350" width="2" height="165" fill="#EBEBEB"/>
<rect x="196" y="350" width="2" height="165" fill="#EBEBEB"/>
<rect x="261" y="350" width="2" height="165" fill="#EBEBEB"/>
<rect x="325" y="350" width="2" height="165" fill="#EBEBEB"/>
<rect x="389" y="350" width="2" height="165" fill="#EBEBEB"/>
<rect x="95" y="381" width="8" height="2" fill="#000000"/>
<rect x="111" y="381" width="8" height="2" fill="#000000"/>
<rect x="127" y="381" width="8" height="2" fill="#000000"/>
<rect x="143" y="381" width="8" height="2" fill="#000000"/>
<rect x="159" y="381" width="8" height="2" fill="#000000"/>
<rect x="175" y="381" width="8" height="2" fill="#000000"/>
<rect x="191" y="381" width="8" height="2" fill="#000000"/>
<rect x="207" y="381" width="8" height="2" fill="#000000"/>
<rect x="223" y="381" width="8" height="2" fill="#000000"/>
<rect x="239" y="381" width="8" height="2" fill="#000000"/>
<rect x="255" y="381" width="8" height="2" fill="#000000"/>
<rect x="271" y="381" width="8" height="2" fill="#000000"/>
<rect x="287" y="381" width="8" height="2" fill="#000000"/>
<rect x="303" y="381" width="8" height="2" fill="#000000"/>
<rect x="319" y="381" width="8" height="2" fill="#000000"/>
<rect x="335" y="381" width="8" height="2" fill="#000000"/>
<rect x="351" y="381" width="8" height="2" fill="#000000"/>
<rect x="367" y="381" width="8" height="2" fill="#000000"/>
<rect x="383" y="381" width="8" height="2" fill="#000000"/>
<rect x="399" y="381" width="8" height="2" fill="#000000"/>
<rect x="415" y="381" width="8" height="2" fill="#000000"/>
<rect x="120" y="422" width="2" height="12" fill="#1B9E77"/>
<rect x="120" y="448" width="2" height="50" fill="#1B9E77"/>
<rect x="110" y="435" width="22" height="12" fill="#1B9E77" fill-opacity="0.5"/>
<rect x="110" y="434" width="23" height="1" fill="#1B9E77"/>
<rect x="109" y="435" width="24" height="1" fill="#1B9E77"/>
<rect x="109" y="446" width="24" height="2" fill="#1B9E77"/>
<rect x="109" y="435" width="1" height="13" fill="#1B9E77"/>
<rect x="110" y="434" width="1" height="14" fill="#1B9E77"/>
<rect x="131" y="434" width="2" height="14" fill="#1B9E77"/>
<rect x="109" y="438" width="24" height="5" fill="#1B9E77"/>
<rect x="144" y="411" width="2" height="14" fill="#D95F02"/>
<rect x="144" y="450" width="2" height="39" fill="#D95F02"/>
<rect x="134" y="426" width="22" height="23" fill="#D95F02" fill-opacity="0.5"/>
<rect x="134" y="425" width="23" height="1" fill="#D95F02"/>
<rect x="133" y="426" width="24" height="1" fill="#D95F02"/>
<rect x="133" y="448" width="24" height="2" fill="#D95F02"/>
<rect x="133" y="426" width="1" height="24" fill="#D95F02"/>
<rect x="134" y="425" width="1" height="25" fill="#D95F02"/>
<rect x="155" y="425" width="2" height="25" fill="#D95F02"/>
<rect x="133" y="431" width="24" height="5" fill="#D95F02"/>
<rect x="184" y="396" width="2" height="9" fill="#1B9E77"/>
<rect x="184" y="418" width="2" height="24" fill="#1B9E77"/>
<rect x="174" y="406" width="22" height="11" fill="#1B9E77" fill-opacity="0.5"/>
<rect x="174" y="405" width="23" height="1" fill="#1B9E77"/>
<rect x="173" y="406" width="24" height="1" fill="#1B9E77"/>
<rect x="173" y="416" width="24" height="2" fill="#1B9E77"/>
<rect x="173" y="406" width="1" height="12" fill="#1B9E77"/>
<rect x="174" y="405" width="1" height="13" fill="#1B9E77"/>
<rect x="195" y="405" width="2" height="13" fill="#1B9E77"/>
<rect x="173" y="408" width="24" height="5" fill="#1B9E77"/>
<rect x="208" y="398" width="2" height="8" fill="#D95F02"/>
<rect x="208" y="423" width="2" height="12" fill="#D95F02"/>
<rect x="199" y="407" width="21" height="15" fill="#D95F02" fill-opacity="0.5"/>
<rect x="199" y="406" width="22" height="1" fill="#D95F02"/>
<rect x="198" y="407" width="23" height="1" fill="#D95F02"/>
<rect x="198" y="421" width="23" height="2" fill="#D95F02"/>
<rect x="198" y="407" width="1" height="16" fill="#D95F02"/>
<rect x="199" y="406" width="1" height="17" fill="#D95F02"/>
<rect x="219" y="406" width="2" height="17" fill="#D95F02"/>
<rect x="198" y="412" width="23" height="5" fill="#D95F02"/>
<rect x="249" y="388" width="2" height="3" fill="#1B9E77"/>
<rect x="249" y="402" width="2" height="11" fill="#1B9E77"/>
<rect x="239" y="392" width="21" height="9" fill="#1B9E77" fill-opacity="0.5"/>
<rect x="239" y="391" width="22" height="1" fill="#1B9E77"/>
<rect x="238" y="392" width="23" height="1" fill="#1B9E77"/>
<rect x="238" y="400" width="23" height="2" fill="#1B9E77"/>
<rect x="238" y="392" width="1" height="10" fill="#1B9E77"/>
<rect x="239" y="391" width="1" height="11" fill="#1B9E77"/>
<rect x="259" y="391" width="2" height="11" fill="#1B9E77"/>
<rect x="238" y="395" width="23" height="5" fill="#1B9E77"/>
<rect x="273" y="384" width="2" height="13" fill="#D95F02"/>
<rect x="273" y="414" width="2" height="11" fill="#D95F02"/>
<rect x="263" y="398" width="21" height="15" fill="#D95F02" fill-opacity="0.5"/>
<rect x="263" y="397" width="22" height="1" fill="#D95F02"/>
<rect x="262" y="398" width="23" height="1" fill="#D95F02"/>
<rect x="262" y="412" width="23" height="2" fill="#D95F02"/>
<rect x="262" y="398" width="1" height="16" fill="#D95F02"/>
<rect x="263" y="397" width="1" height="17" fill="#D95F02"/>
<rect x="283" y="397" width="2" height="17" fill="#D95F02"/>
<rect x="262" y="405" width="23" height="5" fill="#D95F02"/>
<rect x="313" y="383" width="2" height="4" fill="#1B9E77"/>
<rect x="313" y="394" width="2" height="5" fill="#1B9E77"/>
<rect x="303" y="388" width="22" height="5" fill="#1B9E77" fill-opacity="0.5"/>
<rect x="303" y="387" width="23" height="1" fill="#1B9E77"/>
<rect x="302" y="388" width="24" height="1" fill="#1B9E77"/>
<rect x="302" y="392" width="24" height="2" fill="#1B9E77"/>
<rect x="302" y="388" width="1" height="6" fill="#1B9E77"/>
<rect x="303" y="387" width="1" height="7" fill="#1B9E77"/>
<rect x="324" y="387" width="2" height="7" fill="#1B9E77"/>
<rect x="302" y="388" width="24" height="5" fill="#1B9E77"/>
<rect x="337" y="378" width="2" height="16" fill="#D95F02"/>
<rect x="337" y="408" width="2" height="26" fill="#D95F02"/>
<rect x="327" y="395" width="22" height="12" fill="#D95F02" fill-opacity="0.5"/>
<rect x="327" y="394" width="23" height="1" fill="#D95F02"/>
<rect x="326" y="395" width="24" height="1" fill="#D95F02"/>
<rect x="326" y="406" width="24" height="2" fill="#D95F02"/>
<rect x="326" y="395" width="1" height="13" fill="#D95F02"/>
<rect x="327" y="394" width="1" height="14" fill="#D95F02"/>
<rect x="348" y="394" width="2" height="14" fill="#D95F02"/>
<rect x="326" y="399" width="24" height="5" fill="#D95F02"/>
<rect x="377" y="379" width="2" height="7" fill="#1B9E77"/>
<rect x="377" y="392" width="2" height="5" fill="#1B9E77"/>
<rect x="367" y="387" width="22" height="4" fill="#1B9E77" fill-opacity="0.5"/>
<rect x="367" y="386" width="23" height="1" fill="#1B9E77"/>
<rect x="366" y="387" width="24" height="1" fill="#1B9E77"/>
<rect x="366" y="390" width="24" height="2" fill="#1B9E77"/>
<rect x="366" y="387" width="1" height="5" fill="#1B9E77"/>
<rect x="367" y="386" width="1" height="6" fill="#1B9E77"/>
<rect x="388" y="386" width="2" height="6" fill="#1B9E77"/>
<rect x="366" y="387" width="24" height="5" fill="#1B9E77"/>
<rect x="401" y="376" width="2" height="17" fill="#D95F02"/>
<rect x="401" y="406" width="2" height="19" fill="#D95F02"/>
<rect x="391" y="394" width="22" height="11" fill="#D95F02" fill-opacity="0.5"/>
<rect x="391" y="393" width="23" height="1" fill="#D95F02"/>
<rect x="390" y="394" width="24" height="1" fill="#D95F02"/>
<rect x="390" y="404" width="24" height="2" fill="#D95F02"/>
<rect x="390" y="394" width="1" height="12" fill="#D95F02"/>
<rect x="391" y="393" width="1" height="13" fill="#D95F02"/>
<rect x="412" y="393" width="2" height="13" fill="#D95F02"/>
<rect x="390" y="397" width="24" height="5" fill="#D95F02"/>
</g>
<rect x="95" y="350" width="335" height="1" fill="#333333"/>
<rect x="95" y="350" width="1" height="165" fill="#333333"/>
<rect x="428" y="350" width="2" height="165" fill="#333333"/>
<rect x="95" y="513" width="335" height="2" fill="#333333"/>
<g clip-path="url(#c11)">
<rect x="443" y="350" width="335" height="165" fill="#FFFFFF"/>
<rect x="443" y="382" width="335" height="1" fill="#EBEBEB"/>
<rect x="443" y="432" width="335" height="1" fill="#EBEBEB"/>
<rect x="443" y="482" width="335" height="1" fill="#EBEBEB"/>
<rect x="443" y="356" width="335" height="2" fill="#EBEBEB"/>
<rect x="443" y="406" width="335" height="2" fill="#EBEBEB"/>
<rect x="443" y="456" width="335" height="2" fill="#EBEBEB"/>
<rect x="443" y="506" width="335" height="2" fill="#EBEBEB"/>
<rect x="481" y="350" width="2" height="165" fill="#EBEBEB"/>
<rect x="545" y="350" width="2" height="165" fill="#EBEBEB"/>
<rect x="609" y="350" width="2" height="165" fill="#EBEBEB"/>
<rect x="673" y="350" width="2" height="165" fill="#EBEBEB"/>
<rect x="738" y="350" width="2" height="165" fill="#EBEBEB"/>
<rect x="443" y="381" width="8" height="2" fill="#000000"/>
<rect x="459" y="381" width="8" height="2" fill="#000000"/>
<rect x="475" y="381" width="8" height="2" fill="#000000"/>
<rect x="491" y="381" width="8" height="2" fill="#000000"/>
<rect x="507" y="381" width="8" height="2" fill="#000000"/>
<rect x="523" y="381" width="8" height="2" fill="#000000"/>
<rect x="539" y="381" width="8" height="2" fill="#000000"/>
<rect x="555" y="381" width="8" height="2" fill="#000000"/>
<rect x="571" y="381" width="8" height="2" fill="#000000"/>
<rect x="587" y="381" width="8" height="2" fill="#000000"/>
<rect x="603" y="381" width="8" height="2" fill="#000000"/>
<rect x="619" y="381" width="8" height="2" fill="#000000"/>
<rect x="635" y="381" width="8" height="2" fill="#000000"/>
<rect x="651" y="381" width="8" height="2" fill="#000000"/>
<rect x="667" y="381" width="8" height="2" fill="#000000"/>
<rect x="683" y="381" width="8" height="2" fill="#000000"/>
<rect x="699" y="381" width="8" height="2" fill="#000000"/>
<rect x="715" y="381" width="8" height="2" fill="#000000"/>
<rect x="731" y="381" width="8" height="2" fill="#000000"/>
<rect x="747" y="381" width="8" height="2" fill="#000000"/>
<rect x="763" y="381" width="8" height="2" fill="#000000"/>
<rect x="469" y="420" width="2" height="29" fill="#1B9E77"/>
<rect x="469" y="483" width="2" height="422" fill="#1B9E77"/>
<rect x="459" y="450" width="22" height="32" fill="#1B9E77" fill-opacity="0.5"/>
<rect x="459" y="449" width="23" height="1" fill="#1B9E77"/>
<rect x="458" y="450" width="24" height="1" fill="#1B9E77"/>
<rect x="458" y="481" width="24" height="2" fill="#1B9E77"/>
<rect x="458" y="450" width="1" height="33" fill="#1B9E77"/>
<rect x="459" y="449" width="1" height="34" fill="#1B9E77"/>
<rect x="480" y="449" width="2" height="34" fill="#1B9E77"/>
<rect x="458" y="463" width="24" height="5" fill="#1B9E77"/>
<rect x="493" y="457" width="2" height="23" fill="#D95F02"/>
<rect x="493" y="900" width="2" height="5" fill="#D95F02"/>
<rect x="483" y="481" width="22" height="418" fill="#D95F02" fill-opacity="0.5"/>
<rect x="483" y="480" width="23" height="1" fill="#D95F02"/>
<rect x="482" y="481" width="24" height="1" fill="#D95F02"/>
<rect x="482" y="898" width="24" height="2" fill="#D95F02"/>
<rect x="482" y="481" width="1" height="419" fill="#D95F02"/>
<rect x="483" y="480" width="1" height="420" fill="#D95F02"/>
<rect x="504" y="480" width="2" height="420" fill="#D95F02"/>
<rect x="482" y="488" width="24" height="5" fill="#D95F02"/>
<rect x="533" y="411" width="2" height="4" fill="#1B9E77"/>
<rect x="533" y="442" width="2" height="29" fill="#1B9E77"/>
<rect x="523" y="416" width="22" height="25" fill="#1B9E77" fill-opacity="0.5"/>
<rect x="523" y="415" width="23" height="1" fill="#1B9E77"/>
<rect x="522" y="416" width="24" height="1" fill="#1B9E77"/>
<rect x="522" y="440" width="24" height="2" fill="#1B9E77"/>
<rect x="522" y="416" width="1" height="26" fill="#1B9E77"/>
<rect x="523" y="415" width="1" height="27" fill="#1B9E77"/>
<rect x="544" y="415" width="2" height="27" fill="#1B9E77"/>
<rect x="522" y="427" width="24" height="5" fill="#1B9E77"/>
<rect x="557" y="432" width="2" height="10" fill="#D95F02"/>
<rect x="557" y="475" width="2" height="430" fill="#D95F02"/>
<rect x="547" y="443" width="22" height="31" fill="#D95F02" fill-opacity="0.5"/>
<rect x="547" y="442" width="23" height="1" fill="#D95F02"/>
<rect x="546" y="443" width="24" height="1" fill="#D95F02"/>
<rect x="546" y="473" width="24" height="2" fill="#D95F02"/>
<rect x="546" y="443" width="1" height="32" fill="#D95F02"/>
<rect x="547" y="442" width="1" height="33" fill="#D95F02"/>
<rect x="568" y="442" width="2" height="33" fill="#D95F02"/>
<rect x="546" y="453" width="24" height="5" fill="#D95F02"/>
<rect x="597" y="393" width="2" height="8" fill="#1B9E77"/>
<rect x="597" y="418" width="2" height="28" fill="#1B9E77"/>
<rect x="587" y="402" width="22" height="15" fill="#1B9E77" fill-opacity="0.5"/>
<rect x="587" y="401" width="23" height="1" fill="#1B9E77"/>
<rect x="586" y="402" width="24" height="1" fill="#1B9E77"/>
<rect x="586" y="416" width="24" height="2" fill="#1B9E77"/>
<rect x="586" y="402" width="1" height="16" fill="#1B9E77"/>
<rect x="587" y="401" width="1" height="17" fill="#1B9E77"/>
<rect x="608" y="401" width="2" height="17" fill="#1B9E77"/>
<rect x="586" y="404" width="24" height="5" fill="#1B9E77"/>
<rect x="621" y="414" width="2" height="9" fill="#D95F02"/>
<rect x="621" y="446" width="2" height="40" fill="#D95F02"/>
<rect x="611" y="424" width="22" height="21" fill="#D95F02" fill-opacity="0.5"/>
<rect x="611" y="423" width="23" height="1" fill="#D95F02"/>
<rect x="610" y="424" width="24" height="1" fill="#D95F02"/>
<rect x="610" y="444" width="24" height="2" fill="#D95F02"/>
<rect x="610" y="424" width="1" height="22" fill="#D95F02"/>
<rect x="611" y="423" width="1" height="23" fill="#D95F02"/>
<rect x="632" y="423" width="2" height="23" fill="#D95F02"/>
<rect x="610" y="427" width="24" height="5" fill="#D95F02"/>
<rect x="661" y="391" width="2" height="4" fill="#1B9E77"/>
<rect x="661" y="406" width="2" height="23" fill="#1B9E77"/>
<rect x="652" y="396" width="21" height="9" fill="#1B9E77" fill-opacity="0.5"/>
<rect x="652" y="395" width="22" height="1" fill="#1B9E77"/>
<rect x="651" y="396" width="23" height="1" fill="#1B9E77"/>
<rect x="651" y="404" width="23" height="2" fill="#1B9E77"/>
<rect x="651" y="396" width="1" height="10" fill="#1B9E77"/>
<rect x="652" y="395" width="1" height="11" fill="#1B9E77"/>
<rect x="672" y="395" width="2" height="11" fill="#1B9E77"/>
<rect x="651" y="398" width="23" height="5" fill="#1B9E77"/>
<rect x="685" y="402" width="2" height="12" fill="#D95F02"/>
<rect x="685" y="434" width="2" height="33" fill="#D95F02"/>
<rect x="676" y="415" width="21" height="18" fill="#D95F02" fill-opacity="0.5"/>
<rect x="676" y="414" width="22" height="1" fill="#D95F02"/>
<rect x="675" y="415" width="23" height="1" fill="#D95F02"/>
<rect x="675" y="432" width="23" height="2" fill="#D95F02"/>
<rect x="675" y="415" width="1" height="19" fill="#D95F02"/>
<rect x="676" y="414" width="1" height="20" fill="#D95F02"/>
<rect x="696" y="414" width="2" height="20" fill="#D95F02"/>
<rect x="675" y="424" width="23" height="5" fill="#D95F02"/>
<rect x="726" y="388" width="2" height="2" fill="#1B9E77"/>
<rect x="726" y="401" width="2" height="25" fill="#1B9E77"/>
<rect x="716" y="391" width="21" height="9" fill="#1B9E77" fill-opacity="0.5"/>
<rect x="716" y="390" width="22" height="1" fill="#1B9E77"/>
<rect x="715" y="391" width="23" height="1" fill="#1B9E77"/>
<rect x="715" y="399" width="23" height="2" fill="#1B9E77"/>
<rect x="715" y="391" width="1" height="10" fill="#1B9E77"/>
<rect x="716" y="390" width="1" height="11" fill="#1B9E77"/>
<rect x="736" y="390" width="2" height="11" fill="#1B9E77"/>
<rect x="715" y="393" width="23" height="5" fill="#1B9E77"/>
<rect x="750" y="401" width="2" height="7" fill="#D95F02"/>
<rect x="750" y="428" width="2" height="28" fill="#D95F02"/>
<rect x="740" y="409" width="22" height="18" fill="#D95F02" fill-opacity="0.5"/>
<rect x="740" y="408" width="23" height="1" fill="#D95F02"/>
<rect x="739" y="409" width="24" height="1" fill="#D95F02"/>
<rect x="739" y="426" width="24" height="2" fill="#D95F02"/>
<rect x="739" y="409" width="1" height="19" fill="#D95F02"/>
<rect x="740" y="408" width="1" height="20" fill="#D95F02"/>
<rect x="761" y="408" width="2" height="20" fill="#D95F02"/>
<rect x="739" y="416" width="24" height="5" fill="#D95F02"/>
</g>
<rect x="443" y="350" width="335" height="1" fill="#333333"/>
<rect x="443" y="350" width="1" height="165" fill="#333333"/>
<rect x="776" y="350" width="2" height="165" fill="#333333"/>
<rect x="443" y="513" width="335" height="2" fill="#333333"/>
<g clip-path="url(#c12)">
<rect x="792" y="350" width="335" height="165" fill="#FFFFFF"/>
<rect x="792" y="382" width="335" height="1" fill="#EBEBEB"/>
<rect x="792" y="432" width="335" height="1" fill="#EBEBEB"/>
<rect x="792" y="482" width="335" height="1" fill="#EBEBEB"/>
<rect x="792" y="356" width="335" height="2" fill="#EBEBEB"/>
<rect x="792" y="406" width="335" height="2" fill="#EBEBEB"/>
<rect x="792" y="456" width="335" height="2" fill="#EBEBEB"/>
<rect x="792" y="506" width="335" height="2" fill="#EBEBEB"/>
<rect x="829" y="350" width="2" height="165" fill="#EBEBEB"/>
<rect x="894" y="350" width="2" height="165" fill="#EBEBEB"/>
<rect x="958" y="350" width="2" height="165" fill="#EBEBEB"/>
<rect x="1022" y="350" width="2" height="165" fill="#EBEBEB"/>
<rect x="1086" y="350" width="2" height="165" fill="#EBEBEB"/>
<rect x="792" y="381" width="8" height="2" fill="#000000"/>
<rect x="808" y="381" width="8" height="2" fill="#000000"/>
<rect x="824" y="381" width="8" height="2" fill="#000000"/>
<rect x="840" y="381" width="8" height="2" fill="#000000"/>
<rect x="856" y="381" width="8" height="2" fill="#000000"/>
<rect x="872" y="381" width="8" height="2" fill="#000000"/>
<rect x="888" y="381" width="8" height="2" fill="#000000"/>
<rect x="904" y="381" width="8" height="2" fill="#000000"/>
<rect x="920" y="381" width="8" height="2" fill="#000000"/>
<rect x="936" y="381" width="8" height="2" fill="#000000"/>
<rect x="952" y="381" width="8" height="2" fill="#000000"/>
<rect x="968" y="381" width="8" height="2" fill="#000000"/>
<rect x="984" y="381" width="8" height="2" fill="#000000"/>
<rect x="1000" y="381" width="8" height="2" fill="#000000"/>
<rect x="1016" y="381" width="8" height="2" fill="#000000"/>
<rect x="1032" y="381" width="8" height="2" fill="#000000"/>
<rect x="1048" y="381" width="8" height="2" fill="#000000"/>
<rect x="1064" y="381" width="8" height="2" fill="#000000"/>
<rect x="1080" y="381" width="8" height="2" fill="#000000"/>
<rect x="1096" y="381" width="8" height="2" fill="#000000"/>
<rect x="1112" y="381" width="8" height="2" fill="#000000"/>
<rect x="817" y="436" width="2" height="8" fill="#1B9E77"/>
<rect x="817" y="463" width="2" height="19" fill="#1B9E77"/>
<rect x="808" y="445" width="21" height="17" fill="#1B9E77" fill-opacity="0.5"/>
<rect x="808" y="444" width="22" height="1" fill="#1B9E77"/>
<rect x="807" y="445" width="23" height="1" fill="#1B9E77"/>
<rect x="807" y="461" width="23" height="2" fill="#1B9E77"/>
<rect x="807" y="445" width="1" height="18" fill="#1B9E77"/>
<rect x="808" y="444" width="1" height="19" fill="#1B9E77"/>
<rect x="828" y="444" width="2" height="19" fill="#1B9E77"/>
<rect x="807" y="452" width="23" height="5" fill="#1B9E77"/>
<rect x="841" y="456" width="2" height="9" fill="#D95F02"/>
<rect x="841" y="491" width="2" height="414" fill="#D95F02"/>
<rect x="832" y="466" width="21" height="24" fill="#D95F02" fill-opacity="0.5"/>
<rect x="832" y="465" width="22" height="1" fill="#D95F02"/>
<rect x="831" y="466" width="23" height="1" fill="#D95F02"/>
<rect x="831" y="489" width="23" height="2" fill="#D95F02"/>
<rect x="831" y="466" width="1" height="25" fill="#D95F02"/>
<rect x="832" y="465" width="1" height="26" fill="#D95F02"/>
<rect x="852" y="465" width="2" height="26" fill="#D95F02"/>
<rect x="831" y="475" width="23" height="5" fill="#D95F02"/>
<rect x="882" y="408" width="2" height="6" fill="#1B9E77"/>
<rect x="882" y="430" width="2" height="8" fill="#1B9E77"/>
<rect x="872" y="415" width="21" height="14" fill="#1B9E77" fill-opacity="0.5"/>
<rect x="872" y="414" width="22" height="1" fill="#1B9E77"/>
<rect x="871" y="415" width="23" height="1" fill="#1B9E77"/>
<rect x="871" y="428" width="23" height="2" fill="#1B9E77"/>
<rect x="871" y="415" width="1" height="15" fill="#1B9E77"/>
<rect x="872" y="414" width="1" height="16" fill="#1B9E77"/>
<rect x="892" y="414" width="2" height="16" fill="#1B9E77"/>
<rect x="871" y="419" width="23" height="5" fill="#1B9E77"/>
<rect x="906" y="418" width="2" height="14" fill="#D95F02"/>
<rect x="906" y="461" width="2" height="444" fill="#D95F02"/>
<rect x="896" y="433" width="22" height="27" fill="#D95F02" fill-opacity="0.5"/>
<rect x="896" y="432" width="23" height="1" fill="#D95F02"/>
<rect x="895" y="433" width="24" height="1" fill="#D95F02"/>
<rect x="895" y="459" width="24" height="2" fill="#D95F02"/>
<rect x="895" y="433" width="1" height="28" fill="#D95F02"/>
<rect x="896" y="432" width="1" height="29" fill="#D95F02"/>
<rect x="917" y="432" width="2" height="29" fill="#D95F02"/>
<rect x="895" y="441" width="24" height="5" fill="#D95F02"/>
<rect x="946" y="394" width="2" height="6" fill="#1B9E77"/>
<rect x="946" y="409" width="2" height="5" fill="#1B9E77"/>
<rect x="936" y="401" width="22" height="7" fill="#1B9E77" fill-opacity="0.5"/>
<rect x="936" y="400" width="23" height="1" fill="#1B9E77"/>
<rect x="935" y="401" width="24" height="1" fill="#1B9E77"/>
<rect x="935" y="407" width="24" height="2" fill="#1B9E77"/>
<rect x="935" y="401" width="1" height="8" fill="#1B9E77"/>
<rect x="936" y="400" width="1" height="9" fill="#1B9E77"/>
<rect x="957" y="400" width="2" height="9" fill="#1B9E77"/>
<rect x="935" y="403" width="24" height="5" fill="#1B9E77"/>
<rect x="970" y="399" width="2" height="15" fill="#D95F02"/>
<rect x="970" y="435" width="2" height="75" fill="#D95F02"/>
<rect x="960" y="415" width="22" height="19" fill="#D95F02" fill-opacity="0.5"/>
<rect x="960" y="414" width="23" height="1" fill="#D95F02"/>
<rect x="959" y="415" width="24" height="1" fill="#D95F02"/>
<rect x="959" y="433" width="24" height="2" fill="#D95F02"/>
<rect x="959" y="415" width="1" height="20" fill="#D95F02"/>
<rect x="960" y="414" width="1" height="21" fill="#D95F02"/>
<rect x="981" y="414" width="2" height="21" fill="#D95F02"/>
<rect x="959" y="422" width="24" height="5" fill="#D95F02"/>
<rect x="1010" y="389" width="2" height="4" fill="#1B9E77"/>
<rect x="1010" y="403" width="2" height="7" fill="#1B9E77"/>
<rect x="1000" y="394" width="22" height="8" fill="#1B9E77" fill-opacity="0.5"/>
<rect x="1000" y="393" width="23" height="1" fill="#1B9E77"/>
<rect x="999" y="394" width="24" height="1" fill="#1B9E77"/>
<rect x="999" y="401" width="24" height="2" fill="#1B9E77"/>
<rect x="999" y="394" width="1" height="9" fill="#1B9E77"/>
<rect x="1000" y="393" width="1" height="10" fill="#1B9E77"/>
<rect x="1021" y="393" width="2" height="10" fill="#1B9E77"/>
<rect x="999" y="396" width="24" height="5" fill="#1B9E77"/>
<rect x="1034" y="394" width="2" height="10" fill="#D95F02"/>
<rect x="1034" y="430" width="2" height="51" fill="#D95F02"/>
<rect x="1024" y="405" width="22" height="24" fill="#D95F02" fill-opacity="0.5"/>
<rect x="1024" y="404" width="23" height="1" fill="#D95F02"/>
<rect x="1023" y="405" width="24" height="1" fill="#D95F02"/>
<rect x="1023" y="428" width="24" height="2" fill="#D95F02"/>
<rect x="1023" y="405" width="1" height="25" fill="#D95F02"/>
<rect x="1024" y="404" width="1" height="26" fill="#D95F02"/>
<rect x="1045" y="404" width="2" height="26" fill="#D95F02"/>
<rect x="1023" y="412" width="24" height="5" fill="#D95F02"/>
<rect x="1074" y="388" width="2" height="4" fill="#1B9E77"/>
<rect x="1074" y="399" width="2" height="5" fill="#1B9E77"/>
<rect x="1064" y="393" width="22" height="5" fill="#1B9E77" fill-opacity="0.5"/>
<rect x="1064" y="392" width="23" height="1" fill="#1B9E77"/>
<rect x="1063" y="393" width="24" height="1" fill="#1B9E77"/>
<rect x="1063" y="397" width="24" height="2" fill="#1B9E77"/>
<rect x="1063" y="393" width="1" height="6" fill="#1B9E77"/>
<rect x="1064" y="392" width="1" height="7" fill="#1B9E77"/>
<rect x="1085" y="392" width="2" height="7" fill="#1B9E77"/>
<rect x="1063" y="393" width="24" height="5" fill="#1B9E77"/>
<rect x="1098" y="392" width="2" height="8" fill="#D95F02"/>
<rect x="1098" y="427" width="2" height="26" fill="#D95F02"/>
<rect x="1089" y="401" width="21" height="25" fill="#D95F02" fill-opacity="0.5"/>
<rect x="1089" y="400" width="22" height="1" fill="#D95F02"/>
<rect x="1088" y="401" width="23" height="1" fill="#D95F02"/>
<rect x="1088" y="425" width="23" height="2" fill="#D95F02"/>
<rect x="1088" y="401" width="1" height="26" fill="#D95F02"/>
<rect x="1089" y="400" width="1" height="27" fill="#D95F02"/>
<rect x="1109" y="400" width="2" height="27" fill="#D95F02"/>
<rect x="1088" y="407" width="23" height="5" fill="#D95F02"/>
</g>
<rect x="792" y="350" width="335" height="1" fill="#333333"/>
<rect x="792" y="350" width="1" height="165" fill="#333333"/>
<rect x="1125" y="350" width="2" height="165" fill="#333333"/>
<rect x="792" y="513" width="335" height="2" fill="#333333"/>
<g clip-path="url(#c13)">
<rect x="1140" y="350" width="336" height="165" fill="#FFFFFF"/>
<rect x="1140" y="382" width="336" height="1" fill="#EBEBEB"/>
<rect x="1140" y="432" width="336" height="1" fill="#EBEBEB"/>
<rect x="1140" y="482" width="336" height="1" fill="#EBEBEB"/>
<rect x="1140" y="356" width="336" height="2" fill="#EBEBEB"/>
<rect x="1140" y="406" width="336" height="2" fill="#EBEBEB"/>
<rect x="1140" y="456" width="336" height="2" fill="#EBEBEB"/>
<rect x="1140" y="506" width="336" height="2" fill="#EBEBEB"/>
<rect x="1178" y="350" width="2" height="165" fill="#EBEBEB"/>
<rect x="1242" y="350" width="2" height="165" fill="#EBEBEB"/>
<rect x="1306" y="350" width="2" height="165" fill="#EBEBEB"/>
<rect x="1371" y="350" width="2" height="165" fill="#EBEBEB"/>
<rect x="1435" y="350" width="2" height="165" fill="#EBEBEB"/>
<rect x="1140" y="381" width="8" height="2" fill="#000000"/>
<rect x="1156" y="381" width="8" height="2" fill="#000000"/>
<rect x="1172" y="381" width="8" height="2" fill="#000000"/>
<rect x="1188" y="381" width="8" height="2" fill="#000000"/>
<rect x="1204" y="381" width="8" height="2" fill="#000000"/>
<rect x="1220" y="381" width="8" height="2" fill="#000000"/>
<rect x="1236" y="381" width="8" height="2" fill="#000000"/>
<rect x="1252" y="381" width="8" height="2" fill="#000000"/>
<rect x="1268" y="381" width="8" height="2" fill="#000000"/>
<rect x="1284" y="381" width="8" height="2" fill="#000000"/>
<rect x="1300" y="381" width="8" height="2" fill="#000000"/>
<rect x="1316" y="381" width="8" height="2" fill="#000000"/>
<rect x="1332" y="381" width="8" height="2" fill="#000000"/>
<rect x="1348" y="381" width="8" height="2" fill="#000000"/>
<rect x="1364" y="381" width="8" height="2" fill="#000000"/>
<rect x="1380" y="381" width="8" height="2" fill="#000000"/>
<rect x="1396" y="381" width="8" height="2" fill="#000000"/>
<rect x="1412" y="381" width="8" height="2" fill="#000000"/>
<rect x="1428" y="381" width="8" height="2" fill="#000000"/>
<rect x="1444" y="381" width="8" height="2" fill="#000000"/>
<rect x="1460" y="381" width="8" height="2" fill="#000000"/>
<rect x="1166" y="424" width="2" height="10" fill="#1B9E77"/>
<rect x="1166" y="456" width="2" height="13" fill="#1B9E77"/>
<rect x="1156" y="435" width="22" height="20" fill="#1B9E77" fill-opacity="0.5"/>
<rect x="1156" y="434" width="23" height="1" fill="#1B9E77"/>
<rect x="1155" y="435" width="24" height="1" fill="#1B9E77"/>
<rect x="1155" y="454" width="24" height="2" fill="#1B9E77"/>
<rect x="1155" y="435" width="1" height="21" fill="#1B9E77"/>
<rect x="1156" y="434" width="1" height="22" fill="#1B9E77"/>
<rect x="1177" y="434" width="2" height="22" fill="#1B9E77"/>
<rect x="1155" y="441" width="24" height="5" fill="#1B9E77"/>
<rect x="1190" y="423" width="2" height="15" fill="#D95F02"/>
<rect x="1190" y="462" width="2" height="12" fill="#D95F02"/>
<rect x="1180" y="439" width="22" height="22" fill="#D95F02" fill-opacity="0.5"/>
<rect x="1180" y="438" width="23" height="1" fill="#D95F02"/>
<rect x="1179" y="439" width="24" height="1" fill="#D95F02"/>
<rect x="1179" y="460" width="24" height="2" fill="#D95F02"/>
<rect x="1179" y="439" width="1" height="23" fill="#D95F02"/>
<rect x="1180" y="438" width="1" height="24" fill="#D95F02"/>
<rect x="1201" y="438" width="2" height="24" fill="#D95F02"/>
<rect x="1179" y="449" width="24" height="5" fill="#D95F02"/>
<rect x="1230" y="407" width="2" height="2" fill="#1B9E77"/>
<rect x="1230" y="426" width="2" height="7" fill="#1B9E77"/>
<rect x="1220" y="410" width="22" height="15" fill="#1B9E77" fill-opacity="0.5"/>
<rect x="1220" y="409" width="23" height="1" fill="#1B9E77"/>
<rect x="1219" y="410" width="24" height="1" fill="#1B9E77"/>
<rect x="1219" y="424" width="24" height="2" fill="#1B9E77"/>
<rect x="1219" y="410" width="1" height="16" fill="#1B9E77"/>
<rect x="1220" y="409" width="1" height="17" fill="#1B9E77"/>
<rect x="1241" y="409" width="2" height="17" fill="#1B9E77"/>
<rect x="1219" y="415" width="24" height="5" fill="#1B9E77"/>
<rect x="1254" y="411" width="2" height="3" fill="#D95F02"/>
<rect x="1254" y="433" width="2" height="19" fill="#D95F02"/>
<rect x="1244" y="415" width="22" height="17" fill="#D95F02" fill-opacity="0.5"/>
<rect x="1244" y="414" width="23" height="1" fill="#D95F02"/>
<rect x="1243" y="415" width="24" height="1" fill="#D95F02"/>
<rect x="1243" y="431" width="24" height="2" fill="#D95F02"/>
<rect x="1243" y="415" width="1" height="18" fill="#D95F02"/>
<rect x="1244" y="414" width="1" height="19" fill="#D95F02"/>
<rect x="1265" y="414" width="2" height="19" fill="#D95F02"/>
<rect x="1243" y="420" width="24" height="5" fill="#D95F02"/>
<rect x="1294" y="393" width="2" height="5" fill="#1B9E77"/>
<rect x="1294" y="410" width="2" height="5" fill="#1B9E77"/>
<rect x="1285" y="399" width="21" height="10" fill="#1B9E77" fill-opacity="0.5"/>
<rect x="1285" y="398" width="22" height="1" fill="#1B9E77"/>
<rect x="1284" y="399" width="23" height="1" fill="#1B9E77"/>
<rect x="1284" y="408" width="23" height="2" fill="#1B9E77"/>
<rect x="1284" y="399" width="1" height="11" fill="#1B9E77"/>
<rect x="1285" y="398" width="1" height="12" fill="#1B9E77"/>
<rect x="1305" y="398" width="2" height="12" fill="#1B9E77"/>
<rect x="1284" y="401" width="23" height="5" fill="#1B9E77"/>
<rect x="1319" y="399" width="2" height="4" fill="#D95F02"/>
<rect x="1319" y="414" width="2" height="21" fill="#D95F02"/>
<rect x="1309" y="404" width="21" height="9" fill="#D95F02" fill-opacity="0.5"/>
<rect x="1309" y="403" width="22" height="1" fill="#D95F02"/>
<rect x="1308" y="404" width="23" height="1" fill="#D95F02"/>
<rect x="1308" y="412" width="23" height="2" fill="#D95F02"/>
<rect x="1308" y="404" width="1" height="10" fill="#D95F02"/>
<rect x="1309" y="403" width="1" height="11" fill="#D95F02"/>
<rect x="1329" y="403" width="2" height="11" fill="#D95F02"/>
<rect x="1308" y="405" width="23" height="5" fill="#D95F02"/>
<rect x="1359" y="388" width="2" height="6" fill="#1B9E77"/>
<rect x="1359" y="403" width="2" height="5" fill="#1B9E77"/>
<rect x="1349" y="395" width="22" height="7" fill="#1B9E77" fill-opacity="0.5"/>
<rect x="1349" y="394" width="23" height="1" fill="#1B9E77"/>
<rect x="1348" y="395" width="24" height="1" fill="#1B9E77"/>
<rect x="1348" y="401" width="24" height="2" fill="#1B9E77"/>
<rect x="1348" y="395" width="1" height="8" fill="#1B9E77"/>
<rect x="1349" y="394" width="1" height="9" fill="#1B9E77"/>
<rect x="1370" y="394" width="2" height="9" fill="#1B9E77"/>
<rect x="1348" y="397" width="24" height="5" fill="#1B9E77"/>
<rect x="1383" y="395" width="2" height="3" fill="#D95F02"/>
<rect x="1383" y="410" width="2" height="23" fill="#D95F02"/>
<rect x="1373" y="399" width="22" height="10" fill="#D95F02" fill-opacity="0.5"/>
<rect x="1373" y="398" width="23" height="1" fill="#D95F02"/>
<rect x="1372" y="399" width="24" height="1" fill="#D95F02"/>
<rect x="1372" y="408" width="24" height="2" fill="#D95F02"/>
<rect x="1372" y="399" width="1" height="11" fill="#D95F02"/>
<rect x="1373" y="398" width="1" height="12" fill="#D95F02"/>
<rect x="1394" y="398" width="2" height="12" fill="#D95F02"/>
<rect x="1372" y="401" width="24" height="5" fill="#D95F02"/>
<rect x="1423" y="388" width="2" height="4" fill="#1B9E77"/>
<rect x="1423" y="400" width="2" height="9" fill="#1B9E77"/>
<rect x="1413" y="393" width="22" height="6" fill="#1B9E77" fill-opacity="0.5"/>
<rect x="1413" y="392" width="23" height="1" fill="#1B9E77"/>
<rect x="1412" y="393" width="24" height="1" fill="#1B9E77"/>
<rect x="1412" y="398" width="24" height="2" fill="#1B9E77"/>
<rect x="1412" y="393" width="1" height="7" fill="#1B9E77"/>
<rect x="1413" y="392" width="1" height="8" fill="#1B9E77"/>
<rect x="1434" y="392" width="2" height="8" fill="#1B9E77"/>
<rect x="1412" y="394" width="24" height="5" fill="#1B9E77"/>
<rect x="1447" y="391" width="2" height="4" fill="#D95F02"/>
<rect x="1447" y="406" width="2" height="21" fill="#D95F02"/>
<rect x="1437" y="396" width="22" height="9" fill="#D95F02" fill-opacity="0.5"/>
<rect x="1437" y="395" width="23" height="1" fill="#D95F02"/>
<rect x="1436" y="396" width="24" height="1" fill="#D95F02"/>
<rect x="1436" y="404" width="24" height="2" fill="#D95F02"/>
<rect x="1436" y="396" width="1" height="10" fill="#D95F02"/>
<rect x="1437" y="395" width="1" height="11" fill="#D95F02"/>
<rect x="1458" y="395" width="2" height="11" fill="#D95F02"/>
<rect x="1436" y="399" width="24" height="5" fill="#D95F02"/>
</g>
<rect x="1140" y="350" width="336" height="1" fill="#333333"/>
<rect x="1140" y="350" width="1" height="165" fill="#333333"/>
<rect x="1474" y="350" width="2" height="165" fill="#333333"/>
<rect x="1140" y="513" width="336" height="2" fill="#333333"/>
<rect x="87" y="356" width="8" height="2" fill="#333333"/>
<rect x="87" y="406" width="8" height="2" fill="#333333"/>
<rect x="87" y="456" width="8" height="2" fill="#333333"/>
<rect x="87" y="506" width="8" height="2" fill="#333333"/>
<g clip-path="url(#c20)">
<rect x="95" y="529" width="335" height="166" fill="#FFFFFF"/>
<rect x="95" y="562" width="335" height="1" fill="#EBEBEB"/>
<rect x="95" y="611" width="335" height="1" fill="#EBEBEB"/>
<rect x="95" y="661" width="335" height="1" fill="#EBEBEB"/>
<rect x="95" y="536" width="335" height="2" fill="#EBEBEB"/>
<rect x="95" y="585" width="335" height="2" fill="#EBEBEB"/>
<rect x="95" y="635" width="335" height="2" fill="#EBEBEB"/>
<rect x="95" y="685" width="335" height="2" fill="#EBEBEB"/>
<rect x="132" y="529" width="2" height="166" fill="#EBEBEB"/>
<rect x="196" y="529" width="2" height="166" fill="#EBEBEB"/>
<rect x="261" y="529" width="2" height="166" fill="#EBEBEB"/>
<rect x="325" y="529" width="2" height="166" fill="#EBEBEB"/>
<rect x="389" y="529" width="2" height="166" fill="#EBEBEB"/>
<rect x="95" y="561" width="8" height="2" fill="#000000"/>
<rect x="111" y="561" width="8" height="2" fill="#000000"/>
<rect x="127" y="561" width="8" height="2" fill="#000000"/>
<rect x="143" y="561" width="8" height="2" fill="#000000"/>
<rect x="159" y="561" width="8" height="2" fill="#000000"/>
<rect x="175" y="561" width="8" height="2" fill="#000000"/>
<rect x="191" y="561" width="8" height="2" fill="#000000"/>
<rect x="207" y="561" width="8" height="2" fill="#000000"/>
<rect x="223" y="561" width="8" height="2" fill="#000000"/>
<rect x="239" y="561" width="8" height="2" fill="#000000"/>
<rect x="255" y="561" width="8" height="2" fill="#000000"/>
<rect x="271" y="561" width="8" height="2" fill="#000000"/>
<rect x="287" y="561" width="8" height="2" fill="#000000"/>
<rect x="303" y="561" width="8" height="2" fill="#000000"/>
<rect x="319" y="561" width="8" height="2" fill="#000000"/>
<rect x="335" y="561" width="8" height="2" fill="#000000"/>
<rect x="351" y="561" width="8" height="2" fill="#000000"/>
<rect x="367" y="561" width="8" height="2" fill="#000000"/>
<rect x="383" y="561" width="8" height="2" fill="#000000"/>
<rect x="399" y="561" width="8" height="2" fill="#000000"/>
<rect x="415" y="561" width="8" height="2" fill="#000000"/>
<rect x="120" y="598" width="2" height="8" fill="#1B9E77"/>
<rect x="120" y="625" width="2" height="51" fill="#1B9E77"/>
<rect x="110" y="607" width="22" height="17" fill="#1B9E77" fill-opacity="0.5"/>
<rect x="110" y="606" width="23" height="1" fill="#1B9E77"/>
<rect x="109" y="607" width="24" height="1" fill="#1B9E77"/>
<rect x="109" y="623" width="24" height="2" fill="#1B9E77"/>
<rect x="109" y="607" width="1" height="18" fill="#1B9E77"/>
<rect x="110" y="606" width="1" height="19" fill="#1B9E77"/>
<rect x="131" y="606" width="2" height="19" fill="#1B9E77"/>
<rect x="109" y="613" width="24" height="5" fill="#1B9E77"/>
<rect x="144" y="598" width="2" height="11" fill="#D95F02"/>
<rect x="144" y="627" width="2" height="278" fill="#D95F02"/>
<rect x="134" y="610" width="22" height="16" fill="#D95F02" fill-opacity="0.5"/>
<rect x="134" y="609" width="23" height="1" fill="#D95F02"/>
<rect x="133" y="610" width="24" height="1" fill="#D95F02"/>
<rect x="133" y="625" width="24" height="2" fill="#D95F02"/>
<rect x="133" y="610" width="1" height="17" fill="#D95F02"/>
<rect x="134" y="609" width="1" height="18" fill="#D95F02"/>
<rect x="155" y="609" width="2" height="18" fill="#D95F02"/>
<rect x="133" y="615" width="24" height="5" fill="#D95F02"/>
<rect x="184" y="579" width="2" height="4" fill="#1B9E77"/>
<rect x="184" y="595" width="2" height="28" fill="#1B9E77"/>
<rect x="174" y="584" width="22" height="10" fill="#1B9E77" fill-opacity="0.5"/>
<rect x="174" y="583" width="23" height="1" fill="#1B9E77"/>
<rect x="173" y="584" width="24" height="1" fill="#1B9E77"/>
<rect x="173" y="593" width="24" height="2" fill="#1B9E77"/>
<rect x="173" y="584" width="1" height="11" fill="#1B9E77"/>
<rect x="174" y="583" width="1" height="12" fill="#1B9E77"/>
<rect x="195" y="583" width="2" height="12" fill="#1B9E77"/>
<rect x="173" y="585" width="24" height="5" fill="#1B9E77"/>
<rect x="208" y="586" width="2" height="7" fill="#D95F02"/>
<rect x="208" y="609" width="2" height="14" fill="#D95F02"/>
<rect x="199" y="594" width="21" height="14" fill="#D95F02" fill-opacity="0.5"/>
<rect x="199" y="593" width="22" height="1" fill="#D95F02"/>
<rect x="198" y="594" width="23" height="1" fill="#D95F02"/>
<rect x="198" y="607" width="23" height="2" fill="#D95F02"/>
<rect x="198" y="594" width="1" height="15" fill="#D95F02"/>
<rect x="199" y="593" width="1" height="16" fill="#D95F02"/>
<rect x="219" y="593" width="2" height="16" fill="#D95F02"/>
<rect x="198" y="599" width="23" height="5" fill="#D95F02"/>
<rect x="249" y="565" width="2" height="7" fill="#1B9E77"/>
<rect x="249" y="579" width="2" height="18" fill="#1B9E77"/>
<rect x="239" y="573" width="21" height="5" fill="#1B9E77" fill-opacity="0.5"/>
<rect x="239" y="572" width="22" height="1" fill="#1B9E77"/>
<rect x="238" y="573" width="23" height="1" fill="#1B9E77"/>
<rect x="238" y="577" width="23" height="2" fill="#1B9E77"/>
<rect x="238" y="573" width="1" height="6" fill="#1B9E77"/>
<rect x="239" y="572" width="1" height="7" fill="#1B9E77"/>
<rect x="259" y="572" width="2" height="7" fill="#1B9E77"/>
<rect x="238" y="573" width="23" height="5" fill="#1B9E77"/>
<rect x="273" y="577" width="2" height="7" fill="#D95F02"/>
<rect x="273" y="598" width="2" height="19" fill="#D95F02"/>
<rect x="263" y="585" width="21" height="12" fill="#D95F02" fill-opacity="0.5"/>
<rect x="263" y="584" width="22" height="1" fill="#D95F02"/>
<rect x="262" y="585" width="23" height="1" fill="#D95F02"/>
<rect x="262" y="596" width="23" height="2" fill="#D95F02"/>
<rect x="262" y="585" width="1" height="13" fill="#D95F02"/>
<rect x="263" y="584" width="1" height="14" fill="#D95F02"/>
<rect x="283" y="584" width="2" height="14" fill="#D95F02"/>
<rect x="262" y="589" width="23" height="5" fill="#D95F02"/>
<rect x="313" y="560" width="2" height="8" fill="#1B9E77"/>
<rect x="313" y="575" width="2" height="7" fill="#1B9E77"/>
<rect x="303" y="569" width="22" height="5" fill="#1B9E77" fill-opacity="0.5"/>
<rect x="303" y="568" width="23" height="1" fill="#1B9E77"/>
<rect x="302" y="569" width="24" height="1" fill="#1B9E77"/>
<rect x="302" y="573" width="24" height="2" fill="#1B9E77"/>
<rect x="302" y="569" width="1" height="6" fill="#1B9E77"/>
<rect x="303" y="568" width="1" height="7" fill="#1B9E77"/>
<rect x="324" y="568" width="2" height="7" fill="#1B9E77"/>
<rect x="302" y="569" width="24" height="5" fill="#1B9E77"/>
<rect x="337" y="571" width="2" height="10" fill="#D95F02"/>
<rect x="337" y="593" width="2" height="26" fill="#D95F02"/>
<rect x="327" y="582" width="22" height="10" fill="#D95F02" fill-opacity="0.5"/>
<rect x="327" y="581" width="23" height="1" fill="#D95F02"/>
<rect x="326" y="582" width="24" height="1" fill="#D95F02"/>
<rect x="326" y="591" width="24" height="2" fill="#D95F02"/>
<rect x="326" y="582" width="1" height="11" fill="#D95F02"/>
<rect x="327" y="581" width="1" height="12" fill="#D95F02"/>
<rect x="348" y="581" width="2" height="12" fill="#D95F02"/>
<rect x="326" y="584" width="24" height="5" fill="#D95F02"/>
<rect x="377" y="562" width="2" height="3" fill="#1B9E77"/>
<rect x="377" y="572" width="2" height="8" fill="#1B9E77"/>
<rect x="367" y="566" width="22" height="5" fill="#1B9E77" fill-opacity="0.5"/>
<rect x="367" y="565" width="23" height="1" fill="#1B9E77"/>
<rect x="366" y="566" width="24" height="1" fill="#1B9E77"/>
<rect x="366" y="570" width="24" height="2" fill="#1B9E77"/>
<rect x="366" y="566" width="1" height="6" fill="#1B9E77"/>
<rect x="367" y="565" width="1" height="7" fill="#1B9E77"/>
<rect x="388" y="565" width="2" height="7" fill="#1B9E77"/>
<rect x="366" y="566" width="24" height="5" fill="#1B9E77"/>
<rect x="401" y="570" width="2" height="5" fill="#D95F02"/>
<rect x="401" y="593" width="2" height="28" fill="#D95F02"/>
<rect x="391" y="576" width="22" height="16" fill="#D95F02" fill-opacity="0.5"/>
<rect x="391" y="575" width="23" height="1" fill="#D95F02"/>
<rect x="390" y="576" width="24" height="1" fill="#D95F02"/>
<rect x="390" y="591" width="24" height="2" fill="#D95F02"/>
<rect x="390" y="576" width="1" height="17" fill="#D95F02"/>
<rect x="391" y="575" width="1" height="18" fill="#D95F02"/>
<rect x="412" y="575" width="2" height="18" fill="#D95F02"/>
<rect x="390" y="581" width="24" height="5" fill="#D95F02"/>
</g>
<rect x="95" y="529" width="335" height="1" fill="#333333"/>
<rect x="95" y="529" width="1" height="166" fill="#333333"/>
<rect x="428" y="529" width="2" height="166" fill="#333333"/>
<rect x="95" y="693" width="335" height="2" fill="#333333"/>
<g clip-path="url(#c21)">
<rect x="443" y="529" width="335" height="166" fill="#FFFFFF"/>
<rect x="443" y="562" width="335" height="1" fill="#EBEBEB"/>
<rect x="443" y="611" width="335" height="1" fill="#EBEBEB"/>
<rect x="443" y="661" width="335" height="1" fill="#EBEBEB"/>
<rect x="443" y="536" width="335" height="2" fill="#EBEBEB"/>
<rect x="443" y="585" width="335" height="2" fill="#EBEBEB"/>
<rect x="443" y="635" width="335" height="2" fill="#EBEBEB"/>
<rect x="443" y="685" width="335" height="2" fill="#EBEBEB"/>
<rect x="481" y="529" width="2" height="166" fill="#EBEBEB"/>
<rect x="545" y="529" width="2" height="166" fill="#EBEBEB"/>
<rect x="609" y="529" width="2" height="166" fill="#EBEBEB"/>
<rect x="673" y="529" width="2" height="166" fill="#EBEBEB"/>
<rect x="738" y="529" width="2" height="166" fill="#EBEBEB"/>
<rect x="443" y="561" width="8" height="2" fill="#000000"/>
<rect x="459" y="561" width="8" height="2" fill="#000000"/>
<rect x="475" y="561" width="8" height="2" fill="#000000"/>
<rect x="491" y="561" width="8" height="2" fill="#000000"/>
<rect x="507" y="561" width="8" height="2" fill="#000000"/>
<rect x="523" y="561" width="8" height="2" fill="#000000"/>
<rect x="539" y="561" width="8" height="2" fill="#000000"/>
<rect x="555" y="561" width="8" height="2" fill="#000000"/>
<rect x="571" y="561" width="8" height="2" fill="#000000"/>
<rect x="587" y="561" width="8" height="2" fill="#000000"/>
<rect x="603" y="561" width="8" height="2" fill="#000000"/>
<rect x="619" y="561" width="8" height="2" fill="#000000"/>
<rect x="635" y="561" width="8" height="2" fill="#000000"/>
<rect x="651" y="561" width="8" height="2" fill="#000000"/>
<rect x="667" y="561" width="8" height="2" fill="#000000"/>
<rect x="683" y="561" width="8" height="2" fill="#000000"/>
<rect x="699" y="561" width="8" height="2" fill="#000000"/>
<rect x="715" y="561" width="8" height="2" fill="#000000"/>
<rect x="731" y="561" width="8" height="2" fill="#000000"/>
<rect x="747" y="561" width="8" height="2" fill="#000000"/>
<rect x="763" y="561" width="8" height="2" fill="#000000"/>
<rect x="469" y="599" width="2" height="16" fill="#1B9E77"/>
<rect x="469" y="649" width="2" height="41" fill="#1B9E77"/>
<rect x="459" y="616" width="22" height="32" fill="#1B9E77" fill-opacity="0.5"/>
<rect x="459" y="615" width="23" height="1" fill="#1B9E77"/>
<rect x="458" y="616" width="24" height="1" fill="#1B9E77"/>
<rect x="458" y="647" width="24" height="2" fill="#1B9E77"/>
<rect x="458" y="616" width="1" height="33" fill="#1B9E77"/>
<rect x="459" y="615" width="1" height="34" fill="#1B9E77"/>
<rect x="480" y="615" width="2" height="34" fill="#1B9E77"/>
<rect x="458" y="627" width="24" height="5" fill="#1B9E77"/>
<rect x="493" y="620" width="2" height="12" fill="#D95F02"/>
<rect x="493" y="667" width="2" height="238" fill="#D95F02"/>
<rect x="483" y="633" width="22" height="33" fill="#D95F02" fill-opacity="0.5"/>
<rect x="483" y="632" width="23" height="1" fill="#D95F02"/>
<rect x="482" y="633" width="24" height="1" fill="#D95F02"/>
<rect x="482" y="665" width="24" height="2" fill="#D95F02"/>
<rect x="482" y="633" width="1" height="34" fill="#D95F02"/>
<rect x="483" y="632" width="1" height="35" fill="#D95F02"/>
<rect x="504" y="632" width="2" height="35" fill="#D95F02"/>
<rect x="482" y="645" width="24" height="5" fill="#D95F02"/>
<rect x="533" y="580" width="2" height="9" fill="#1B9E77"/>
<rect x="533" y="611" width="2" height="37" fill="#1B9E77"/>
<rect x="523" y="590" width="22" height="20" fill="#1B9E77" fill-opacity="0.5"/>
<rect x="523" y="589" width="23" height="1" fill="#1B9E77"/>
<rect x="522" y="590" width="24" height="1" fill="#1B9E77"/>
<rect x="522" y="609" width="24" height="2" fill="#1B9E77"/>
<rect x="522" y="590" width="1" height="21" fill="#1B9E77"/>
<rect x="523" y="589" width="1" height="22" fill="#1B9E77"/>
<rect x="544" y="589" width="2" height="22" fill="#1B9E77"/>
<rect x="522" y="595" width="24" height="5" fill="#1B9E77"/>
<rect x="557" y="601" width="2" height="7" fill="#D95F02"/>
<rect x="557" y="632" width="2" height="273" fill="#D95F02"/>
<rect x="547" y="609" width="22" height="22" fill="#D95F02" fill-opacity="0.5"/>
<rect x="547" y="608" width="23" height="1" fill="#D95F02"/>
<rect x="546" y="609" width="24" height="1" fill="#D95F02"/>
<rect x="546" y="630" width="24" height="2" fill="#D95F02"/>
<rect x="546" y="609" width="1" height="23" fill="#D95F02"/>
<rect x="547" y="608" width="1" height="24" fill="#D95F02"/>
<rect x="568" y="608" width="2" height="24" fill="#D95F02"/>
<rect x="546" y="613" width="24" height="5" fill="#D95F02"/>
<rect x="597" y="572" width="2" height="4" fill="#1B9E77"/>
<rect x="597" y="588" width="2" height="29" fill="#1B9E77"/>
<rect x="587" y="577" width="22" height="10" fill="#1B9E77" fill-opacity="0.5"/>
<rect x="587" y="576" width="23" height="1" fill="#1B9E77"/>
<rect x="586" y="577" width="24" height="1" fill="#1B9E77"/>
<rect x="586" y="586" width="24" height="2" fill="#1B9E77"/>
<rect x="586" y="577" width="1" height="11" fill="#1B9E77"/>
<rect x="587" y="576" width="1" height="12" fill="#1B9E77"/>
<rect x="608" y="576" width="2" height="12" fill="#1B9E77"/>
<rect x="586" y="579" width="24" height="5" fill="#1B9E77"/>
<rect x="621" y="583" width="2" height="6" fill="#D95F02"/>
<rect x="621" y="610" width="2" height="36" fill="#D95F02"/>
<rect x="611" y="590" width="22" height="19" fill="#D95F02" fill-opacity="0.5"/>
<rect x="611" y="589" width="23" height="1" fill="#D95F02"/>
<rect x="610" y="590" width="24" height="1" fill="#D95F02"/>
<rect x="610" y="608" width="24" height="2" fill="#D95F02"/>
<rect x="610" y="590" width="1" height="20" fill="#D95F02"/>
<rect x="611" y="589" width="1" height="21" fill="#D95F02"/>
<rect x="632" y="589" width="2" height="21" fill="#D95F02"/>
<rect x="610" y="598" width="24" height="5" fill="#D95F02"/>
<rect x="661" y="565" width="2" height="6" fill="#1B9E77"/>
<rect x="661" y="582" width="2" height="23" fill="#1B9E77"/>
<rect x="652" y="572" width="21" height="9" fill="#1B9E77" fill-opacity="0.5"/>
<rect x="652" y="571" width="22" height="1" fill="#1B9E77"/>
<rect x="651" y="572" width="23" height="1" fill="#1B9E77"/>
<rect x="651" y="580" width="23" height="2" fill="#1B9E77"/>
<rect x="651" y="572" width="1" height="10" fill="#1B9E77"/>
<rect x="652" y="571" width="1" height="11" fill="#1B9E77"/>
<rect x="672" y="571" width="2" height="11" fill="#1B9E77"/>
<rect x="651" y="573" width="23" height="5" fill="#1B9E77"/>
<rect x="685" y="571" width="2" height="14" fill="#D95F02"/>
<rect x="685" y="603" width="2" height="23" fill="#D95F02"/>
<rect x="676" y="586" width="21" height="16" fill="#D95F02" fill-opacity="0.5"/>
<rect x="676" y="585" width="22" height="1" fill="#D95F02"/>
<rect x="675" y="586" width="23" height="1" fill="#D95F02"/>
<rect x="675" y="601" width="23" height="2" fill="#D95F02"/>
<rect x="675" y="586" width="1" height="17" fill="#D95F02"/>
<rect x="676" y="585" width="1" height="18" fill="#D95F02"/>
<rect x="696" y="585" width="2" height="18" fill="#D95F02"/>
<rect x="675" y="591" width="23" height="5" fill="#D95F02"/>
<rect x="726" y="566" width="2" height="3" fill="#1B9E77"/>
<rect x="726" y="577" width="2" height="16" fill="#1B9E77"/>
<rect x="716" y="570" width="21" height="6" fill="#1B9E77" fill-opacity="0.5"/>
<rect x="716" y="569" width="22" height="1" fill="#1B9E77"/>
<rect x="715" y="570" width="23" height="1" fill="#1B9E77"/>
<rect x="715" y="575" width="23" height="2" fill="#1B9E77"/>
<rect x="715" y="570" width="1" height="7" fill="#1B9E77"/>
<rect x="716" y="569" width="1" height="8" fill="#1B9E77"/>
<rect x="736" y="569" width="2" height="8" fill="#1B9E77"/>
<rect x="715" y="570" width="23" height="5" fill="#1B9E77"/>
<rect x="750" y="573" width="2" height="6" fill="#D95F02"/>
<rect x="750" y="601" width="2" height="27" fill="#D95F02"/>
<rect x="740" y="580" width="22" height="20" fill="#D95F02" fill-opacity="0.5"/>
<rect x="740" y="579" width="23" height="1" fill="#D95F02"/>
<rect x="739" y="580" width="24" height="1" fill="#D95F02"/>
<rect x="739" y="599" width="24" height="2" fill="#D95F02"/>
<rect x="739" y="580" width="1" height="21" fill="#D95F02"/>
<rect x="740" y="579" width="1" height="22" fill="#D95F02"/>
<rect x="761" y="579" width="2" height="22" fill="#D95F02"/>
<rect x="739" y="587" width="24" height="5" fill="#D95F02"/>
</g>
<rect x="443" y="529" width="335" height="1" fill="#333333"/>
<rect x="443" y="529" width="1" height="166" fill="#333333"/>
<rect x="776" y="529" width="2" height="166" fill="#333333"/>
<rect x="443" y="693" width="335" height="2" fill="#333333"/>
<g clip-path="url(#c22)">
<rect x="792" y="529" width="335" height="166" fill="#FFFFFF"/>
<rect x="792" y="562" width="335" height="1" fill="#EBEBEB"/>
<rect x="792" y="611" width="335" height="1" fill="#EBEBEB"/>
<rect x="792" y="661" width="335" height="1" fill="#EBEBEB"/>
<rect x="792" y="536" width="335" height="2" fill="#EBEBEB"/>
<rect x="792" y="585" width="335" height="2" fill="#EBEBEB"/>
<rect x="792" y="635" width="335" height="2" fill="#EBEBEB"/>
<rect x="792" y="685" width="335" height="2" fill="#EBEBEB"/>
<rect x="829" y="529" width="2" height="166" fill="#EBEBEB"/>
<rect x="894" y="529" width="2" height="166" fill="#EBEBEB"/>
<rect x="958" y="529" width="2" height="166" fill="#EBEBEB"/>
<rect x="1022" y="529" width="2" height="166" fill="#EBEBEB"/>
<rect x="1086" y="529" width="2" height="166" fill="#EBEBEB"/>
<rect x="792" y="561" width="8" height="2" fill="#000000"/>
<rect x="808" y="561" width="8" height="2" fill="#000000"/>
<rect x="824" y="561" width="8" height="2" fill="#000000"/>
<rect x="840" y="561" width="8" height="2" fill="#000000"/>
<rect x="856" y="561" width="8" height="2" fill="#000000"/>
<rect x="872" y="561" width="8" height="2" fill="#000000"/>
<rect x="888" y="561" width="8" height="2" fill="#000000"/>
<rect x="904" y="561" width="8" height="2" fill="#000000"/>
<rect x="920" y="561" width="8" height="2" fill="#000000"/>
<rect x="936" y="561" width="8" height="2" fill="#000000"/>
<rect x="952" y="561" width="8" height="2" fill="#000000"/>
<rect x="968" y="561" width="8" height="2" fill="#000000"/>
<rect x="984" y="561" width="8" height="2" fill="#000000"/>
<rect x="1000" y="561" width="8" height="2" fill="#000000"/>
<rect x="1016" y="561" width="8" height="2" fill="#000000"/>
<rect x="1032" y="561" width="8" height="2" fill="#000000"/>
<rect x="1048" y="561" width="8" height="2" fill="#000000"/>
<rect x="1064" y="561" width="8" height="2" fill="#000000"/>
<rect x="1080" y="561" width="8" height="2" fill="#000000"/>
<rect x="1096" y="561" width="8" height="2" fill="#000000"/>
<rect x="1112" y="561" width="8" height="2" fill="#000000"/>
<rect x="817" y="611" width="2" height="9" fill="#1B9E77"/>
<rect x="817" y="638" width="2" height="30" fill="#1B9E77"/>
<rect x="808" y="621" width="21" height="16" fill="#1B9E77" fill-opacity="0.5"/>
<rect x="808" y="620" width="22" height="1" fill="#1B9E77"/>
<rect x="807" y="621" width="23" height="1" fill="#1B9E77"/>
<rect x="807" y="636" width="23" height="2" fill="#1B9E77"/>
<rect x="807" y="621" width="1" height="17" fill="#1B9E77"/>
<rect x="808" y="620" width="1" height="18" fill="#1B9E77"/>
<rect x="828" y="620" width="2" height="18" fill="#1B9E77"/>
<rect x="807" y="626" width="23" height="5" fill="#1B9E77"/>
<rect x="841" y="632" width="2" height="11" fill="#D95F02"/>
<rect x="841" y="900" width="2" height="5" fill="#D95F02"/>
<rect x="832" y="644" width="21" height="255" fill="#D95F02" fill-opacity="0.5"/>
<rect x="832" y="643" width="22" height="1" fill="#D95F02"/>
<rect x="831" y="644" width="23" height="1" fill="#D95F02"/>
<rect x="831" y="898" width="23" height="2" fill="#D95F02"/>
<rect x="831" y="644" width="1" height="256" fill="#D95F02"/>
<rect x="832" y="643" width="1" height="257" fill="#D95F02"/>
<rect x="852" y="643" width="2" height="257" fill="#D95F02"/>
<rect x="831" y="658" width="23" height="5" fill="#D95F02"/>
<rect x="882" y="582" width="2" height="12" fill="#1B9E77"/>
<rect x="882" y="609" width="2" height="24" fill="#1B9E77"/>
<rect x="872" y="595" width="21" height="13" fill="#1B9E77" fill-opacity="0.5"/>
<rect x="872" y="594" width="22" height="1" fill="#1B9E77"/>
<rect x="871" y="595" width="23" height="1" fill="#1B9E77"/>
<rect x="871" y="607" width="23" height="2" fill="#1B9E77"/>
<rect x="871" y="595" width="1" height="14" fill="#1B9E77"/>
<rect x="872" y="594" width="1" height="15" fill="#1B9E77"/>
<rect x="892" y="594" width="2" height="15" fill="#1B9E77"/>
<rect x="871" y="598" width="23" height="5" fill="#1B9E77"/>
<rect x="906" y="608" width="2" height="6" fill="#D95F02"/>
<rect x="906" y="644" width="2" height="261" fill="#D95F02"/>
<rect x="896" y="615" width="22" height="28" fill="#D95F02" fill-opacity="0.5"/>
<rect x="896" y="614" width="23" height="1" fill="#D95F02"/>
<rect x="895" y="615" width="24" height="1" fill="#D95F02"/>
<rect x="895" y="642" width="24" height="2" fill="#D95F02"/>
<rect x="895" y="615" width="1" height="29" fill="#D95F02"/>
<rect x="896" y="614" width="1" height="30" fill="#D95F02"/>
<rect x="917" y="614" width="2" height="30" fill="#D95F02"/>
<rect x="895" y="626" width="24" height="5" fill="#D95F02"/>
<rect x="946" y="575" width="2" height="4" fill="#1B9E77"/>
<rect x="946" y="590" width="2" height="22" fill="#1B9E77"/>
<rect x="936" y="580" width="22" height="9" fill="#1B9E77" fill-opacity="0.5"/>
<rect x="936" y="579" width="23" height="1" fill="#1B9E77"/>
<rect x="935" y="580" width="24" height="1" fill="#1B9E77"/>
<rect x="935" y="588" width="24" height="2" fill="#1B9E77"/>
<rect x="935" y="580" width="1" height="10" fill="#1B9E77"/>
<rect x="936" y="579" width="1" height="11" fill="#1B9E77"/>
<rect x="957" y="579" width="2" height="11" fill="#1B9E77"/>
<rect x="935" y="583" width="24" height="5" fill="#1B9E77"/>
<rect x="970" y="586" width="2" height="10" fill="#D95F02"/>
<rect x="970" y="625" width="2" height="60" fill="#D95F02"/>
<rect x="960" y="597" width="22" height="27" fill="#D95F02" fill-opacity="0.5"/>
<rect x="960" y="596" width="23" height="1" fill="#D95F02"/>
<rect x="959" y="597" width="24" height="1" fill="#D95F02"/>
<rect x="959" y="623" width="24" height="2" fill="#D95F02"/>
<rect x="959" y="597" width="1" height="28" fill="#D95F02"/>
<rect x="960" y="596" width="1" height="29" fill="#D95F02"/>
<rect x="981" y="596" width="2" height="29" fill="#D95F02"/>
<rect x="959" y="607" width="24" height="5" fill="#D95F02"/>
<rect x="1010" y="570" width="2" height="3" fill="#1B9E77"/>
<rect x="1010" y="583" width="2" height="17" fill="#1B9E77"/>
<rect x="1000" y="574" width="22" height="8" fill="#1B9E77" fill-opacity="0.5"/>
<rect x="1000" y="573" width="23" height="1" fill="#1B9E77"/>
<rect x="999" y="574" width="24" height="1" fill="#1B9E77"/>
<rect x="999" y="581" width="24" height="2" fill="#1B9E77"/>
<rect x="999" y="574" width="1" height="9" fill="#1B9E77"/>
<rect x="1000" y="573" width="1" height="10" fill="#1B9E77"/>
<rect x="1021" y="573" width="2" height="10" fill="#1B9E77"/>
<rect x="999" y="576" width="24" height="5" fill="#1B9E77"/>
<rect x="1034" y="576" width="2" height="13" fill="#D95F02"/>
<rect x="1034" y="613" width="2" height="32" fill="#D95F02"/>
<rect x="1024" y="590" width="22" height="22" fill="#D95F02" fill-opacity="0.5"/>
<rect x="1024" y="589" width="23" height="1" fill="#D95F02"/>
<rect x="1023" y="590" width="24" height="1" fill="#D95F02"/>
<rect x="1023" y="611" width="24" height="2" fill="#D95F02"/>
<rect x="1023" y="590" width="1" height="23" fill="#D95F02"/>
<rect x="1024" y="589" width="1" height="24" fill="#D95F02"/>
<rect x="1045" y="589" width="2" height="24" fill="#D95F02"/>
<rect x="1023" y="598" width="24" height="5" fill="#D95F02"/>
<rect x="1074" y="568" width="2" height="3" fill="#1B9E77"/>
<rect x="1074" y="579" width="2" height="13" fill="#1B9E77"/>
<rect x="1064" y="572" width="22" height="6" fill="#1B9E77" fill-opacity="0.5"/>
<rect x="1064" y="571" width="23" height="1" fill="#1B9E77"/>
<rect x="1063" y="572" width="24" height="1" fill="#1B9E77"/>
<rect x="1063" y="577" width="24" height="2" fill="#1B9E77"/>
<rect x="1063" y="572" width="1" height="7" fill="#1B9E77"/>
<rect x="1064" y="571" width="1" height="8" fill="#1B9E77"/>
<rect x="1085" y="571" width="2" height="8" fill="#1B9E77"/>
<rect x="1063" y="574" width="24" height="5" fill="#1B9E77"/>
<rect x="1098" y="575" width="2" height="11" fill="#D95F02"/>
<rect x="1098" y="610" width="2" height="16" fill="#D95F02"/>
<rect x="1089" y="587" width="21" height="22" fill="#D95F02" fill-opacity="0.5"/>
<rect x="1089" y="586" width="22" height="1" fill="#D95F02"/>
<rect x="1088" y="587" width="23" height="1" fill="#D95F02"/>
<rect x="1088" y="608" width="23" height="2" fill="#D95F02"/>
<rect x="1088" y="587" width="1" height="23" fill="#D95F02"/>
<rect x="1089" y="586" width="1" height="24" fill="#D95F02"/>
<rect x="1109" y="586" width="2" height="24" fill="#D95F02"/>
<rect x="1088" y="594" width="23" height="5" fill="#D95F02"/>
</g>
<rect x="792" y="529" width="335" height="1" fill="#333333"/>
<rect x="792" y="529" width="1" height="166" fill="#333333"/>
<rect x="1125" y="529" width="2" height="166" fill="#333333"/>
<rect x="792" y="693" width="335" height="2" fill="#333333"/>
<g clip-path="url(#c23)">
<rect x="1140" y="529" width="336" height="166" fill="#FFFFFF"/>
<rect x="1140" y="562" width="336" height="1" fill="#EBEBEB"/>
<rect x="1140" y="611" width="336" height="1" fill="#EBEBEB"/>
<rect x="1140" y="661" width="336" height="1" fill="#EBEBEB"/>
<rect x="1140" y="536" width="336" height="2" fill="#EBEBEB"/>
<rect x="1140" y="585" width="336" height="2" fill="#EBEBEB"/>
<rect x="1140" y="635" width="336" height="2" fill="#EBEBEB"/>
<rect x="1140" y="685" width="336" height="2" fill="#EBEBEB"/>
<rect x="1178" y="529" width="2" height="166" fill="#EBEBEB"/>
<rect x="1242" y="529" width="2" height="166" fill="#EBEBEB"/>
<rect x="1306" y="529" width="2" height="166" fill="#EBEBEB"/>
<rect x="1371" y="529" width="2" height="166" fill="#EBEBEB"/>
<rect x="1435" y="529" width="2" height="166" fill="#EBEBEB"/>
<rect x="1140" y="561" width="8" height="2" fill="#000000"/>
<rect x="1156" y="561" width="8" height="2" fill="#000000"/>
<rect x="1172" y="561" width="8" height="2" fill="#000000"/>
<rect x="1188" y="561" width="8" height="2" fill="#000000"/>
<rect x="1204" y="561" width="8" height="2" fill="#000000"/>
<rect x="1220" y="561" width="8" height="2" fill="#000000"/>
<rect x="1236" y="561" width="8" height="2" fill="#000000"/>
<rect x="1252" y="561" width="8" height="2" fill="#000000"/>
<rect x="1268" y="561" width="8" height="2" fill="#000000"/>
<rect x="1284" y="561" width="8" height="2" fill="#000000"/>
<rect x="1300" y="561" width="8" height="2" fill="#000000"/>
<rect x="1316" y="561" width="8" height="2" fill="#000000"/>
<rect x="1332" y="561" width="8" height="2" fill="#000000"/>
<rect x="1348" y="561" width="8" height="2" fill="#000000"/>
<rect x="1364" y="561" width="8" height="2" fill="#000000"/>
<rect x="1380" y="561" width="8" height="2" fill="#000000"/>
<rect x="1396" y="561" width="8" height="2" fill="#000000"/>
<rect x="1412" y="561" width="8" height="2" fill="#000000"/>
<rect x="1428" y="561" width="8" height="2" fill="#000000"/>
<rect x="1444" y="561" width="8" height="2" fill="#000000"/>
<rect x="1460" y="561" width="8" height="2" fill="#000000"/>
<rect x="1166" y="594" width="2" height="5" fill="#1B9E77"/>
<rect x="1166" y="621" width="2" height="11" fill="#1B9E77"/>
<rect x="1156" y="600" width="22" height="20" fill="#1B9E77" fill-opacity="0.5"/>
<rect x="1156" y="599" width="23" height="1" fill="#1B9E77"/>
<rect x="1155" y="600" width="24" height="1" fill="#1B9E77"/>
<rect x="1155" y="619" width="24" height="2" fill="#1B9E77"/>
<rect x="1155" y="600" width="1" height="21" fill="#1B9E77"/>
<rect x="1156" y="599" width="1" height="22" fill="#1B9E77"/>
<rect x="1177" y="599" width="2" height="22" fill="#1B9E77"/>
<rect x="1155" y="610" width="24" height="5" fill="#1B9E77"/>
<rect x="1190" y="612" width="2" height="18" fill="#D95F02"/>
<rect x="1190" y="649" width="2" height="39" fill="#D95F02"/>
<rect x="1180" y="631" width="22" height="17" fill="#D95F02" fill-opacity="0.5"/>
<rect x="1180" y="630" width="23" height="1" fill="#D95F02"/>
<rect x="1179" y="631" width="24" height="1" fill="#D95F02"/>
<rect x="1179" y="647" width="24" height="2" fill="#D95F02"/>
<rect x="1179" y="631" width="1" height="18" fill="#D95F02"/>
<rect x="1180" y="630" width="1" height="19" fill="#D95F02"/>
<rect x="1201" y="630" width="2" height="19" fill="#D95F02"/>
<rect x="1179" y="637" width="24" height="5" fill="#D95F02"/>
<rect x="1230" y="573" width="2" height="8" fill="#1B9E77"/>
<rect x="1230" y="593" width="2" height="11" fill="#1B9E77"/>
<rect x="1220" y="582" width="22" height="10" fill="#1B9E77" fill-opacity="0.5"/>
<rect x="1220" y="581" width="23" height="1" fill="#1B9E77"/>
<rect x="1219" y="582" width="24" height="1" fill="#1B9E77"/>
<rect x="1219" y="591" width="24" height="2" fill="#1B9E77"/>
<rect x="1219" y="582" width="1" height="11" fill="#1B9E77"/>
<rect x="1220" y="581" width="1" height="12" fill="#1B9E77"/>
<rect x="1241" y="581" width="2" height="12" fill="#1B9E77"/>
<rect x="1219" y="585" width="24" height="5" fill="#1B9E77"/>
<rect x="1254" y="597" width="2" height="9" fill="#D95F02"/>
<rect x="1254" y="629" width="2" height="276" fill="#D95F02"/>
<rect x="1244" y="607" width="22" height="21" fill="#D95F02" fill-opacity="0.5"/>
<rect x="1244" y="606" width="23" height="1" fill="#D95F02"/>
<rect x="1243" y="607" width="24" height="1" fill="#D95F02"/>
<rect x="1243" y="627" width="24" height="2" fill="#D95F02"/>
<rect x="1243" y="607" width="1" height="22" fill="#D95F02"/>
<rect x="1244" y="606" width="1" height="23" fill="#D95F02"/>
<rect x="1265" y="606" width="2" height="23" fill="#D95F02"/>
<rect x="1243" y="612" width="24" height="5" fill="#D95F02"/>
<rect x="1294" y="565" width="2" height="6" fill="#1B9E77"/>
<rect x="1294" y="580" width="2" height="8" fill="#1B9E77"/>
<rect x="1285" y="572" width="21" height="7" fill="#1B9E77" fill-opacity="0.5"/>
<rect x="1285" y="571" width="22" height="1" fill="#1B9E77"/>
<rect x="1284" y="572" width="23" height="1" fill="#1B9E77"/>
<rect x="1284" y="578" width="23" height="2" fill="#1B9E77"/>
<rect x="1284" y="572" width="1" height="8" fill="#1B9E77"/>
<rect x="1285" y="571" width="1" height="9" fill="#1B9E77"/>
<rect x="1305" y="571" width="2" height="9" fill="#1B9E77"/>
<rect x="1284" y="573" width="23" height="5" fill="#1B9E77"/>
<rect x="1319" y="577" width="2" height="13" fill="#D95F02"/>
<rect x="1319" y="611" width="2" height="294" fill="#D95F02"/>
<rect x="1309" y="591" width="21" height="19" fill="#D95F02" fill-opacity="0.5"/>
<rect x="1309" y="590" width="22" height="1" fill="#D95F02"/>
<rect x="1308" y="591" width="23" height="1" fill="#D95F02"/>
<rect x="1308" y="609" width="23" height="2" fill="#D95F02"/>
<rect x="1308" y="591" width="1" height="20" fill="#D95F02"/>
<rect x="1309" y="590" width="1" height="21" fill="#D95F02"/>
<rect x="1329" y="590" width="2" height="21" fill="#D95F02"/>
<rect x="1308" y="597" width="23" height="5" fill="#D95F02"/>
<rect x="1359" y="563" width="2" height="3" fill="#1B9E77"/>
<rect x="1359" y="576" width="2" height="6" fill="#1B9E77"/>
<rect x="1349" y="567" width="22" height="8" fill="#1B9E77" fill-opacity="0.5"/>
<rect x="1349" y="566" width="23" height="1" fill="#1B9E77"/>
<rect x="1348" y="567" width="24" height="1" fill="#1B9E77"/>
<rect x="1348" y="574" width="24" height="2" fill="#1B9E77"/>
<rect x="1348" y="567" width="1" height="9" fill="#1B9E77"/>
<rect x="1349" y="566" width="1" height="10" fill="#1B9E77"/>
<rect x="1370" y="566" width="2" height="10" fill="#1B9E77"/>
<rect x="1348" y="568" width="24" height="5" fill="#1B9E77"/>
<rect x="1383" y="571" width="2" height="11" fill="#D95F02"/>
<rect x="1383" y="611" width="2" height="294" fill="#D95F02"/>
<rect x="1373" y="583" width="22" height="27" fill="#D95F02" fill-opacity="0.5"/>
<rect x="1373" y="582" width="23" height="1" fill="#D95F02"/>
<rect x="1372" y="583" width="24" height="1" fill="#D95F02"/>
<rect x="1372" y="609" width="24" height="2" fill="#D95F02"/>
<rect x="1372" y="583" width="1" height="28" fill="#D95F02"/>
<rect x="1373" y="582" width="1" height="29" fill="#D95F02"/>
<rect x="1394" y="582" width="2" height="29" fill="#D95F02"/>
<rect x="1372" y="589" width="24" height="5" fill="#D95F02"/>
<rect x="1423" y="563" width="2" height="3" fill="#1B9E77"/>
<rect x="1423" y="573" width="2" height="12" fill="#1B9E77"/>
<rect x="1413" y="567" width="22" height="5" fill="#1B9E77" fill-opacity="0.5"/>
<rect x="1413" y="566" width="23" height="1" fill="#1B9E77"/>
<rect x="1412" y="567" width="24" height="1" fill="#1B9E77"/>
<rect x="1412" y="571" width="24" height="2" fill="#1B9E77"/>
<rect x="1412" y="567" width="1" height="6" fill="#1B9E77"/>
<rect x="1413" y="566" width="1" height="7" fill="#1B9E77"/>
<rect x="1434" y="566" width="2" height="7" fill="#1B9E77"/>
<rect x="1412" y="567" width="24" height="5" fill="#1B9E77"/>
<rect x="1447" y="573" width="2" height="3" fill="#D95F02"/>
<rect x="1447" y="604" width="2" height="75" fill="#D95F02"/>
<rect x="1437" y="577" width="22" height="26" fill="#D95F02" fill-opacity="0.5"/>
<rect x="1437" y="576" width="23" height="1" fill="#D95F02"/>
<rect x="1436" y="577" width="24" height="1" fill="#D95F02"/>
<rect x="1436" y="602" width="24" height="2" fill="#D95F02"/>
<rect x="1436" y="577" width="1" height="27" fill="#D95F02"/>
<rect x="1437" y="576" width="1" height="28" fill="#D95F02"/>
<rect x="1458" y="576" width="2" height="28" fill="#D95F02"/>
<rect x="1436" y="588" width="24" height="5" fill="#D95F02"/>
</g>
<rect x="1140" y="529" width="336" height="1" fill="#333333"/>
<rect x="1140" y="529" width="1" height="166" fill="#333333"/>
<rect x="1474" y="529" width="2" height="166" fill="#333333"/>
<rect x="1140" y="693" width="336" height="2" fill="#333333"/>
<rect x="87" y="536" width="8" height="2" fill="#333333"/>
<rect x="87" y="585" width="8" height="2" fill="#333333"/>
<rect x="87" y="635" width="8" height="2" fill="#333333"/>
<rect x="87" y="685" width="8" height="2" fill="#333333"/>
<g clip-path="url(#c30)">
<rect x="95" y="709" width="335" height="165" fill="#FFFFFF"/>
<rect x="95" y="741" width="335" height="1" fill="#EBEBEB"/>
<rect x="95" y="791" width="335" height="1" fill="#EBEBEB"/>
<rect x="95" y="841" width="335" height="1" fill="#EBEBEB"/>
<rect x="95" y="715" width="335" height="2" fill="#EBEBEB"/>
<rect x="95" y="765" width="335" height="2" fill="#EBEBEB"/>
<rect x="95" y="815" width="335" height="2" fill="#EBEBEB"/>
<rect x="95" y="865" width="335" height="2" fill="#EBEBEB"/>
<rect x="132" y="709" width="2" height="165" fill="#EBEBEB"/>
<rect x="196" y="709" width="2" height="165" fill="#EBEBEB"/>
<rect x="261" y="709" width="2" height="165" fill="#EBEBEB"/>
<rect x="325" y="709" width="2" height="165" fill="#EBEBEB"/>
<rect x="389" y="709" width="2" height="165" fill="#EBEBEB"/>
<rect x="95" y="740" width="8" height="2" fill="#000000"/>
<rect x="111" y="740" width="8" height="2" fill="#000000"/>
<rect x="127" y="740" width="8" height="2" fill="#000000"/>
<rect x="143" y="740" width="8" height="2" fill="#000000"/>
<rect x="159" y="740" width="8" height="2" fill="#000000"/>
<rect x="175" y="740" width="8" height="2" fill="#000000"/>
<rect x="191" y="740" width="8" height="2" fill="#000000"/>
<rect x="207" y="740" width="8" height="2" fill="#000000"/>
<rect x="223" y="740" width="8" height="2" fill="#000000"/>
<rect x="239" y="740" width="8" height="2" fill="#000000"/>
<rect x="255" y="740" width="8" height="2" fill="#000000"/>
<rect x="271" y="740" width="8" height="2" fill="#000000"/>
<rect x="287" y="740" width="8" height="2" fill="#000000"/>
<rect x="303" y="740" width="8" height="2" fill="#000000"/>
<rect x="319" y="740" width="8" height="2" fill="#000000"/>
<rect x="335" y="740" width="8" height="2" fill="#000000"/>
<rect x="351" y="740" width="8" height="2" fill="#000000"/>
<rect x="367" y="740" width="8" height="2" fill="#000000"/>
<rect x="383" y="740" width="8" height="2" fill="#000000"/>
<rect x="399" y="740" width="8" height="2" fill="#000000"/>
<rect x="415" y="740" width="8" height="2" fill="#000000"/>
<rect x="120" y="772" width="2" height="13" fill="#1B9E77"/>
<rect x="120" y="809" width="2" height="42" fill="#1B9E77"/>
<rect x="110" y="786" width="22" height="22" fill="#1B9E77" fill-opacity="0.5"/>
<rect x="110" y="785" width="23" height="1" fill="#1B9E77"/>
<rect x="109" y="786" width="24" height="1" fill="#1B9E77"/>
<rect x="109" y="807" width="24" height="2" fill="#1B9E77"/>
<rect x="109" y="786" width="1" height="23" fill="#1B9E77"/>
<rect x="110" y="785" width="1" height="24" fill="#1B9E77"/>
<rect x="131" y="785" width="2" height="24" fill="#1B9E77"/>
<rect x="109" y="792" width="24" height="5" fill="#1B9E77"/>
<rect x="144" y="782" width="2" height="10" fill="#D95F02"/>
<rect x="144" y="810" width="2" height="95" fill="#D95F02"/>
<rect x="134" y="793" width="22" height="16" fill="#D95F02" fill-opacity="0.5"/>
<rect x="134" y="792" width="23" height="1" fill="#D95F02"/>
<rect x="133" y="793" width="24" height="1" fill="#D95F02"/>
<rect x="133" y="808" width="24" height="2" fill="#D95F02"/>
<rect x="133" y="793" width="1" height="17" fill="#D95F02"/>
<rect x="134" y="792" width="1" height="18" fill="#D95F02"/>
<rect x="155" y="792" width="2" height="18" fill="#D95F02"/>
<rect x="133" y="797" width="24" height="5" fill="#D95F02"/>
<rect x="184" y="756" width="2" height="5" fill="#1B9E77"/>
<rect x="184" y="775" width="2" height="27" fill="#1B9E77"/>
<rect x="174" y="762" width="22" height="12" fill="#1B9E77" fill-opacity="0.5"/>
<rect x="174" y="761" width="23" height="1" fill="#1B9E77"/>
<rect x="173" y="762" width="24" height="1" fill="#1B9E77"/>
<rect x="173" y="773" width="24" height="2" fill="#1B9E77"/>
<rect x="173" y="762" width="1" height="13" fill="#1B9E77"/>
<rect x="174" y="761" width="1" height="14" fill="#1B9E77"/>
<rect x="195" y="761" width="2" height="14" fill="#1B9E77"/>
<rect x="173" y="764" width="24" height="5" fill="#1B9E77"/>
<rect x="208" y="765" width="2" height="10" fill="#D95F02"/>
<rect x="208" y="791" width="2" height="26" fill="#D95F02"/>
<rect x="199" y="776" width="21" height="14" fill="#D95F02" fill-opacity="0.5"/>
<rect x="199" y="775" width="22" height="1" fill="#D95F02"/>
<rect x="198" y="776" width="23" height="1" fill="#D95F02"/>
<rect x="198" y="789" width="23" height="2" fill="#D95F02"/>
<rect x="198" y="776" width="1" height="15" fill="#D95F02"/>
<rect x="199" y="775" width="1" height="16" fill="#D95F02"/>
<rect x="219" y="775" width="2" height="16" fill="#D95F02"/>
<rect x="198" y="781" width="23" height="5" fill="#D95F02"/>
<rect x="249" y="749" width="2" height="4" fill="#1B9E77"/>
<rect x="249" y="760" width="2" height="13" fill="#1B9E77"/>
<rect x="239" y="754" width="21" height="5" fill="#1B9E77" fill-opacity="0.5"/>
<rect x="239" y="753" width="22" height="1" fill="#1B9E77"/>
<rect x="238" y="754" width="23" height="1" fill="#1B9E77"/>
<rect x="238" y="758" width="23" height="2" fill="#1B9E77"/>
<rect x="238" y="754" width="1" height="6" fill="#1B9E77"/>
<rect x="239" y="753" width="1" height="7" fill="#1B9E77"/>
<rect x="259" y="753" width="2" height="7" fill="#1B9E77"/>
<rect x="238" y="754" width="23" height="5" fill="#1B9E77"/>
<rect x="273" y="759" width="2" height="5" fill="#D95F02"/>
<rect x="273" y="781" width="2" height="28" fill="#D95F02"/>
<rect x="263" y="765" width="21" height="15" fill="#D95F02" fill-opacity="0.5"/>
<rect x="263" y="764" width="22" height="1" fill="#D95F02"/>
<rect x="262" y="765" width="23" height="1" fill="#D95F02"/>
<rect x="262" y="779" width="23" height="2" fill="#D95F02"/>
<rect x="262" y="765" width="1" height="16" fill="#D95F02"/>
<rect x="263" y="764" width="1" height="17" fill="#D95F02"/>
<rect x="283" y="764" width="2" height="17" fill="#D95F02"/>
<rect x="262" y="771" width="23" height="5" fill="#D95F02"/>
<rect x="313" y="744" width="2" height="4" fill="#1B9E77"/>
<rect x="313" y="756" width="2" height="12" fill="#1B9E77"/>
<rect x="303" y="749" width="22" height="6" fill="#1B9E77" fill-opacity="0.5"/>
<rect x="303" y="748" width="23" height="1" fill="#1B9E77"/>
<rect x="302" y="749" width="24" height="1" fill="#1B9E77"/>
<rect x="302" y="754" width="24" height="2" fill="#1B9E77"/>
<rect x="302" y="749" width="1" height="7" fill="#1B9E77"/>
<rect x="303" y="748" width="1" height="8" fill="#1B9E77"/>
<rect x="324" y="748" width="2" height="8" fill="#1B9E77"/>
<rect x="302" y="749" width="24" height="5" fill="#1B9E77"/>
<rect x="337" y="753" width="2" height="7" fill="#D95F02"/>
<rect x="337" y="779" width="2" height="30" fill="#D95F02"/>
<rect x="327" y="761" width="22" height="17" fill="#D95F02" fill-opacity="0.5"/>
<rect x="327" y="760" width="23" height="1" fill="#D95F02"/>
<rect x="326" y="761" width="24" height="1" fill="#D95F02"/>
<rect x="326" y="777" width="24" height="2" fill="#D95F02"/>
<rect x="326" y="761" width="1" height="18" fill="#D95F02"/>
<rect x="327" y="760" width="1" height="19" fill="#D95F02"/>
<rect x="348" y="760" width="2" height="19" fill="#D95F02"/>
<rect x="326" y="767" width="24" height="5" fill="#D95F02"/>
<rect x="377" y="743" width="2" height="3" fill="#1B9E77"/>
<rect x="377" y="753" width="2" height="7" fill="#1B9E77"/>
<rect x="367" y="747" width="22" height="5" fill="#1B9E77" fill-opacity="0.5"/>
<rect x="367" y="746" width="23" height="1" fill="#1B9E77"/>
<rect x="366" y="747" width="24" height="1" fill="#1B9E77"/>
<rect x="366" y="751" width="24" height="2" fill="#1B9E77"/>
<rect x="366" y="747" width="1" height="6" fill="#1B9E77"/>
<rect x="367" y="746" width="1" height="7" fill="#1B9E77"/>
<rect x="388" y="746" width="2" height="7" fill="#1B9E77"/>
<rect x="366" y="747" width="24" height="5" fill="#1B9E77"/>
<rect x="401" y="747" width="2" height="10" fill="#D95F02"/>
<rect x="401" y="776" width="2" height="30" fill="#D95F02"/>
<rect x="391" y="758" width="22" height="17" fill="#D95F02" fill-opacity="0.5"/>
<rect x="391" y="757" width="23" height="1" fill="#D95F02"/>
<rect x="390" y="758" width="24" height="1" fill="#D95F02"/>
<rect x="390" y="774" width="24" height="2" fill="#D95F02"/>
<rect x="390" y="758" width="1" height="18" fill="#D95F02"/>
<rect x="391" y="757" width="1" height="19" fill="#D95F02"/>
<rect x="412" y="757" width="2" height="19" fill="#D95F02"/>
<rect x="390" y="764" width="24" height="5" fill="#D95F02"/>
</g>
<rect x="95" y="709" width="335" height="1" fill="#333333"/>
<rect x="95" y="709" width="1" height="165" fill="#333333"/>
<rect x="428" y="709" width="2" height="165" fill="#333333"/>
<rect x="95" y="872" width="335" height="2" fill="#333333"/>
<g clip-path="url(#c31)">
<rect x="443" y="709" width="335" height="165" fill="#FFFFFF"/>
<rect x="443" y="741" width="335" height="1" fill="#EBEBEB"/>
<rect x="443" y="791" width="335" height="1" fill="#EBEBEB"/>
<rect x="443" y="841" width="335" height="1" fill="#EBEBEB"/>
<rect x="443" y="715" width="335" height="2" fill="#EBEBEB"/>
<rect x="443" y="765" width="335" height="2" fill="#EBEBEB"/>
<rect x="443" y="815" width="335" height="2" fill="#EBEBEB"/>
<rect x="443" y="865" width="335" height="2" fill="#EBEBEB"/>
<rect x="481" y="709" width="2" height="165" fill="#EBEBEB"/>
<rect x="545" y="709" width="2" height="165" fill="#EBEBEB"/>
<rect x="609" y="709" width="2" height="165" fill="#EBEBEB"/>
<rect x="673" y="709" width="2" height="165" fill="#EBEBEB"/>
<rect x="738" y="709" width="2" height="165" fill="#EBEBEB"/>
<rect x="443" y="740" width="8" height="2" fill="#000000"/>
<rect x="459" y="740" width="8" height="2" fill="#000000"/>
<rect x="475" y="740" width="8" height="2" fill="#000000"/>
<rect x="491" y="740" width="8" height="2" fill="#000000"/>
<rect x="507" y="740" width="8" height="2" fill="#000000"/>
<rect x="523" y="740" width="8" height="2" fill="#000000"/>
<rect x="539" y="740" width="8" height="2" fill="#000000"/>
<rect x="555" y="740" width="8" height="2" fill="#000000"/>
<rect x="571" y="740" width="8" height="2" fill="#000000"/>
<rect x="587" y="740" width="8" height="2" fill="#000000"/>
<rect x="603" y="740" width="8" height="2" fill="#000000"/>
<rect x="619" y="740" width="8" height="2" fill="#000000"/>
<rect x="635" y="740" width="8" height="2" fill="#000000"/>
<rect x="651" y="740" width="8" height="2" fill="#000000"/>
<rect x="667" y="740" width="8" height="2" fill="#000000"/>
<rect x="683" y="740" width="8" height="2" fill="#000000"/>
<rect x="699" y="740" width="8" height="2" fill="#000000"/>
<rect x="715" y="740" width="8" height="2" fill="#000000"/>
<rect x="731" y="740" width="8" height="2" fill="#000000"/>
<rect x="747" y="740" width="8" height="2" fill="#000000"/>
<rect x="763" y="740" width="8" height="2" fill="#000000"/>
<rect x="469" y="774" width="2" height="18" fill="#1B9E77"/>
<rect x="469" y="820" width="2" height="39" fill="#1B9E77"/>
<rect x="459" y="793" width="22" height="26" fill="#1B9E77" fill-opacity="0.5"/>
<rect x="459" y="792" width="23" height="1" fill="#1B9E77"/>
<rect x="458" y="793" width="24" height="1" fill="#1B9E77"/>
<rect x="458" y="818" width="24" height="2" fill="#1B9E77"/>
<rect x="458" y="793" width="1" height="27" fill="#1B9E77"/>
<rect x="459" y="792" width="1" height="28" fill="#1B9E77"/>
<rect x="480" y="792" width="2" height="28" fill="#1B9E77"/>
<rect x="458" y="800" width="24" height="5" fill="#1B9E77"/>
<rect x="493" y="792" width="2" height="15" fill="#D95F02"/>
<rect x="493" y="839" width="2" height="66" fill="#D95F02"/>
<rect x="483" y="808" width="22" height="30" fill="#D95F02" fill-opacity="0.5"/>
<rect x="483" y="807" width="23" height="1" fill="#D95F02"/>
<rect x="482" y="808" width="24" height="1" fill="#D95F02"/>
<rect x="482" y="837" width="24" height="2" fill="#D95F02"/>
<rect x="482" y="808" width="1" height="31" fill="#D95F02"/>
<rect x="483" y="807" width="1" height="32" fill="#D95F02"/>
<rect x="504" y="807" width="2" height="32" fill="#D95F02"/>
<rect x="482" y="814" width="24" height="5" fill="#D95F02"/>
<rect x="533" y="761" width="2" height="4" fill="#1B9E77"/>
<rect x="533" y="784" width="2" height="34" fill="#1B9E77"/>
<rect x="523" y="766" width="22" height="17" fill="#1B9E77" fill-opacity="0.5"/>
<rect x="523" y="765" width="23" height="1" fill="#1B9E77"/>
<rect x="522" y="766" width="24" height="1" fill="#1B9E77"/>
<rect x="522" y="782" width="24" height="2" fill="#1B9E77"/>
<rect x="522" y="766" width="1" height="18" fill="#1B9E77"/>
<rect x="523" y="765" width="1" height="19" fill="#1B9E77"/>
<rect x="544" y="765" width="2" height="19" fill="#1B9E77"/>
<rect x="522" y="771" width="24" height="5" fill="#1B9E77"/>
<rect x="557" y="772" width="2" height="12" fill="#D95F02"/>
<rect x="557" y="807" width="2" height="98" fill="#D95F02"/>
<rect x="547" y="785" width="22" height="21" fill="#D95F02" fill-opacity="0.5"/>
<rect x="547" y="784" width="23" height="1" fill="#D95F02"/>
<rect x="546" y="785" width="24" height="1" fill="#D95F02"/>
<rect x="546" y="805" width="24" height="2" fill="#D95F02"/>
<rect x="546" y="785" width="1" height="22" fill="#D95F02"/>
<rect x="547" y="784" width="1" height="23" fill="#D95F02"/>
<rect x="568" y="784" width="2" height="23" fill="#D95F02"/>
<rect x="546" y="791" width="24" height="5" fill="#D95F02"/>
<rect x="597" y="750" width="2" height="3" fill="#1B9E77"/>
<rect x="597" y="767" width="2" height="25" fill="#1B9E77"/>
<rect x="587" y="754" width="22" height="12" fill="#1B9E77" fill-opacity="0.5"/>
<rect x="587" y="753" width="23" height="1" fill="#1B9E77"/>
<rect x="586" y="754" width="24" height="1" fill="#1B9E77"/>
<rect x="586" y="765" width="24" height="2" fill="#1B9E77"/>
<rect x="586" y="754" width="1" height="13" fill="#1B9E77"/>
<rect x="587" y="753" width="1" height="14" fill="#1B9E77"/>
<rect x="608" y="753" width="2" height="14" fill="#1B9E77"/>
<rect x="586" y="756" width="24" height="5" fill="#1B9E77"/>
<rect x="621" y="761" width="2" height="7" fill="#D95F02"/>
<rect x="621" y="789" width="2" height="31" fill="#D95F02"/>
<rect x="611" y="769" width="22" height="19" fill="#D95F02" fill-opacity="0.5"/>
<rect x="611" y="768" width="23" height="1" fill="#D95F02"/>
<rect x="610" y="769" width="24" height="1" fill="#D95F02"/>
<rect x="610" y="787" width="24" height="2" fill="#D95F02"/>
<rect x="610" y="769" width="1" height="20" fill="#D95F02"/>
<rect x="611" y="768" width="1" height="21" fill="#D95F02"/>
<rect x="632" y="768" width="2" height="21" fill="#D95F02"/>
<rect x="610" y="776" width="24" height="5" fill="#D95F02"/>
<rect x="661" y="745" width="2" height="5" fill="#1B9E77"/>
<rect x="661" y="759" width="2" height="20" fill="#1B9E77"/>
<rect x="652" y="751" width="21" height="7" fill="#1B9E77" fill-opacity="0.5"/>
<rect x="652" y="750" width="22" height="1" fill="#1B9E77"/>
<rect x="651" y="751" width="23" height="1" fill="#1B9E77"/>
<rect x="651" y="757" width="23" height="2" fill="#1B9E77"/>
<rect x="651" y="751" width="1" height="8" fill="#1B9E77"/>
<rect x="652" y="750" width="1" height="9" fill="#1B9E77"/>
<rect x="672" y="750" width="2" height="9" fill="#1B9E77"/>
<rect x="651" y="752" width="23" height="5" fill="#1B9E77"/>
<rect x="685" y="750" width="2" height="12" fill="#D95F02"/>
<rect x="685" y="782" width="2" height="27" fill="#D95F02"/>
<rect x="676" y="763" width="21" height="18" fill="#D95F02" fill-opacity="0.5"/>
<rect x="676" y="762" width="22" height="1" fill="#D95F02"/>
<rect x="675" y="763" width="23" height="1" fill="#D95F02"/>
<rect x="675" y="780" width="23" height="2" fill="#D95F02"/>
<rect x="675" y="763" width="1" height="19" fill="#D95F02"/>
<rect x="676" y="762" width="1" height="20" fill="#D95F02"/>
<rect x="696" y="762" width="2" height="20" fill="#D95F02"/>
<rect x="675" y="768" width="23" height="5" fill="#D95F02"/>
<rect x="726" y="746" width="2" height="3" fill="#1B9E77"/>
<rect x="726" y="756" width="2" height="19" fill="#1B9E77"/>
<rect x="716" y="750" width="21" height="5" fill="#1B9E77" fill-opacity="0.5"/>
<rect x="716" y="749" width="22" height="1" fill="#1B9E77"/>
<rect x="715" y="750" width="23" height="1" fill="#1B9E77"/>
<rect x="715" y="754" width="23" height="2" fill="#1B9E77"/>
<rect x="715" y="750" width="1" height="6" fill="#1B9E77"/>
<rect x="716" y="749" width="1" height="7" fill="#1B9E77"/>
<rect x="736" y="749" width="2" height="7" fill="#1B9E77"/>
<rect x="715" y="750" width="23" height="5" fill="#1B9E77"/>
<rect x="750" y="751" width="2" height="8" fill="#D95F02"/>
<rect x="750" y="780" width="2" height="40" fill="#D95F02"/>
<rect x="740" y="760" width="22" height="19" fill="#D95F02" fill-opacity="0.5"/>
<rect x="740" y="759" width="23" height="1" fill="#D95F02"/>
<rect x="739" y="760" width="24" height="1" fill="#D95F02"/>
<rect x="739" y="778" width="24" height="2" fill="#D95F02"/>
<rect x="739" y="760" width="1" height="20" fill="#D95F02"/>
<rect x="740" y="759" width="1" height="21" fill="#D95F02"/>
<rect x="761" y="759" width="2" height="21" fill="#D95F02"/>
<rect x="739" y="767" width="24" height="5" fill="#D95F02"/>
</g>
<rect x="443" y="709" width="335" height="1" fill="#333333"/>
<rect x="443" y="709" width="1" height="165" fill="#333333"/>
<rect x="776" y="709" width="2" height="165" fill="#333333"/>
<rect x="443" y="872" width="335" height="2" fill="#333333"/>
<g clip-path="url(#c32)">
<rect x="792" y="709" width="335" height="165" fill="#FFFFFF"/>
<rect x="792" y="741" width="335" height="1" fill="#EBEBEB"/>
<rect x="792" y="791" width="335" height="1" fill="#EBEBEB"/>
<rect x="792" y="841" width="335" height="1" fill="#EBEBEB"/>
<rect x="792" y="715" width="335" height="2" fill="#EBEBEB"/>
<rect x="792" y="765" width="335" height="2" fill="#EBEBEB"/>
<rect x="792" y="815" width="335" height="2" fill="#EBEBEB"/>
<rect x="792" y="865" width="335" height="2" fill="#EBEBEB"/>
<rect x="829" y="709" width="2" height="165" fill="#EBEBEB"/>
<rect x="894" y="709" width="2" height="165" fill="#EBEBEB"/>
<rect x="958" y="709" width="2" height="165" fill="#EBEBEB"/>
<rect x="1022" y="709" width="2" height="165" fill="#EBEBEB"/>
<rect x="1086" y="709" width="2" height="165" fill="#EBEBEB"/>
<rect x="792" y="740" width="8" height="2" fill="#000000"/>
<rect x="808" y="740" width="8" height="2" fill="#000000"/>
<rect x="824" y="740" width="8" height="2" fill="#000000"/>
<rect x="840" y="740" width="8" height="2" fill="#000000"/>
<rect x="856" y="740" width="8" height="2" fill="#000000"/>
<rect x="872" y="740" width="8" height="2" fill="#000000"/>
<rect x="888" y="740" width="8" height="2" fill="#000000"/>
<rect x="904" y="740" width="8" height="2" fill="#000000"/>
<rect x="920" y="740" width="8" height="2" fill="#000000"/>
<rect x="936" y="740" width="8" height="2" fill="#000000"/>
<rect x="952" y="740" width="8" height="2" fill="#000000"/>
<rect x="968" y="740" width="8" height="2" fill="#000000"/>
<rect x="984" y="740" width="8" height="2" fill="#000000"/>
<rect x="1000" y="740" width="8" height="2" fill="#000000"/>
<rect x="1016" y="740" width="8" height="2" fill="#000000"/>
<rect x="1032" y="740" width="8" height="2" fill="#000000"/>
<rect x="1048" y="740" width="8" height="2" fill="#000000"/>
<rect x="1064" y="740" width="8" height="2" fill="#000000"/>
<rect x="1080" y="740" width="8" height="2" fill="#000000"/>
<rect x="1096" y="740" width="8" height="2" fill="#000000"/>
<rect x="1112" y="740" width="8" height="2" fill="#000000"/>
<rect x="817" y="778" width="2" height="18" fill="#1B9E77"/>
<rect x="817" y="816" width="2" height="36" fill="#1B9E77"/>
<rect x="808" y="797" width="21" height="18" fill="#1B9E77" fill-opacity="0.5"/>
<rect x="808" y="796" width="22" height="1" fill="#1B9E77"/>
<rect x="807" y="797" width="23" height="1" fill="#1B9E77"/>
<rect x="807" y="814" width="23" height="2" fill="#1B9E77"/>
<rect x="807" y="797" width="1" height="19" fill="#1B9E77"/>
<rect x="808" y="796" width="1" height="20" fill="#1B9E77"/>
<rect x="828" y="796" width="2" height="20" fill="#1B9E77"/>
<rect x="807" y="802" width="23" height="5" fill="#1B9E77"/>
<rect x="841" y="799" width="2" height="16" fill="#D95F02"/>
<rect x="841" y="865" width="2" height="40" fill="#D95F02"/>
<rect x="832" y="816" width="21" height="48" fill="#D95F02" fill-opacity="0.5"/>
<rect x="832" y="815" width="22" height="1" fill="#D95F02"/>
<rect x="831" y="816" width="23" height="1" fill="#D95F02"/>
<rect x="831" y="863" width="23" height="2" fill="#D95F02"/>
<rect x="831" y="816" width="1" height="49" fill="#D95F02"/>
<rect x="832" y="815" width="1" height="50" fill="#D95F02"/>
<rect x="852" y="815" width="2" height="50" fill="#D95F02"/>
<rect x="831" y="830" width="23" height="5" fill="#D95F02"/>
<rect x="882" y="760" width="2" height="8" fill="#1B9E77"/>
<rect x="882" y="786" width="2" height="36" fill="#1B9E77"/>
<rect x="872" y="769" width="21" height="16" fill="#1B9E77" fill-opacity="0.5"/>
<rect x="872" y="768" width="22" height="1" fill="#1B9E77"/>
<rect x="871" y="769" width="23" height="1" fill="#1B9E77"/>
<rect x="871" y="784" width="23" height="2" fill="#1B9E77"/>
<rect x="871" y="769" width="1" height="17" fill="#1B9E77"/>
<rect x="872" y="768" width="1" height="18" fill="#1B9E77"/>
<rect x="892" y="768" width="2" height="18" fill="#1B9E77"/>
<rect x="871" y="775" width="23" height="5" fill="#1B9E77"/>
<rect x="906" y="777" width="2" height="13" fill="#D95F02"/>
<rect x="906" y="823" width="2" height="82" fill="#D95F02"/>
<rect x="896" y="791" width="22" height="31" fill="#D95F02" fill-opacity="0.5"/>
<rect x="896" y="790" width="23" height="1" fill="#D95F02"/>
<rect x="895" y="791" width="24" height="1" fill="#D95F02"/>
<rect x="895" y="821" width="24" height="2" fill="#D95F02"/>
<rect x="895" y="791" width="1" height="32" fill="#D95F02"/>
<rect x="896" y="790" width="1" height="33" fill="#D95F02"/>
<rect x="917" y="790" width="2" height="33" fill="#D95F02"/>
<rect x="895" y="797" width="24" height="5" fill="#D95F02"/>
<rect x="946" y="752" width="2" height="4" fill="#1B9E77"/>
<rect x="946" y="767" width="2" height="23" fill="#1B9E77"/>
<rect x="936" y="757" width="22" height="9" fill="#1B9E77" fill-opacity="0.5"/>
<rect x="936" y="756" width="23" height="1" fill="#1B9E77"/>
<rect x="935" y="757" width="24" height="1" fill="#1B9E77"/>
<rect x="935" y="765" width="24" height="2" fill="#1B9E77"/>
<rect x="935" y="757" width="1" height="10" fill="#1B9E77"/>
<rect x="936" y="756" width="1" height="11" fill="#1B9E77"/>
<rect x="957" y="756" width="2" height="11" fill="#1B9E77"/>
<rect x="935" y="758" width="24" height="5" fill="#1B9E77"/>
<rect x="970" y="762" width="2" height="10" fill="#D95F02"/>
<rect x="970" y="803" width="2" height="48" fill="#D95F02"/>
<rect x="960" y="773" width="22" height="29" fill="#D95F02" fill-opacity="0.5"/>
<rect x="960" y="772" width="23" height="1" fill="#D95F02"/>
<rect x="959" y="773" width="24" height="1" fill="#D95F02"/>
<rect x="959" y="801" width="24" height="2" fill="#D95F02"/>
<rect x="959" y="773" width="1" height="30" fill="#D95F02"/>
<rect x="960" y="772" width="1" height="31" fill="#D95F02"/>
<rect x="981" y="772" width="2" height="31" fill="#D95F02"/>
<rect x="959" y="782" width="24" height="5" fill="#D95F02"/>
<rect x="1010" y="748" width="2" height="3" fill="#1B9E77"/>
<rect x="1010" y="760" width="2" height="23" fill="#1B9E77"/>
<rect x="1000" y="752" width="22" height="7" fill="#1B9E77" fill-opacity="0.5"/>
<rect x="1000" y="751" width="23" height="1" fill="#1B9E77"/>
<rect x="999" y="752" width="24" height="1" fill="#1B9E77"/>
<rect x="999" y="758" width="24" height="2" fill="#1B9E77"/>
<rect x="999" y="752" width="1" height="8" fill="#1B9E77"/>
<rect x="1000" y="751" width="1" height="9" fill="#1B9E77"/>
<rect x="1021" y="751" width="2" height="9" fill="#1B9E77"/>
<rect x="999" y="753" width="24" height="5" fill="#1B9E77"/>
<rect x="1034" y="755" width="2" height="12" fill="#D95F02"/>
<rect x="1034" y="791" width="2" height="26" fill="#D95F02"/>
<rect x="1024" y="768" width="22" height="22" fill="#D95F02" fill-opacity="0.5"/>
<rect x="1024" y="767" width="23" height="1" fill="#D95F02"/>
<rect x="1023" y="768" width="24" height="1" fill="#D95F02"/>
<rect x="1023" y="789" width="24" height="2" fill="#D95F02"/>
<rect x="1023" y="768" width="1" height="23" fill="#D95F02"/>
<rect x="1024" y="767" width="1" height="24" fill="#D95F02"/>
<rect x="1045" y="767" width="2" height="24" fill="#D95F02"/>
<rect x="1023" y="775" width="24" height="5" fill="#D95F02"/>
<rect x="1074" y="744" width="2" height="5" fill="#1B9E77"/>
<rect x="1074" y="760" width="2" height="13" fill="#1B9E77"/>
<rect x="1064" y="750" width="22" height="9" fill="#1B9E77" fill-opacity="0.5"/>
<rect x="1064" y="749" width="23" height="1" fill="#1B9E77"/>
<rect x="1063" y="750" width="24" height="1" fill="#1B9E77"/>
<rect x="1063" y="758" width="24" height="2" fill="#1B9E77"/>
<rect x="1063" y="750" width="1" height="10" fill="#1B9E77"/>
<rect x="1064" y="749" width="1" height="11" fill="#1B9E77"/>
<rect x="1085" y="749" width="2" height="11" fill="#1B9E77"/>
<rect x="1063" y="751" width="24" height="5" fill="#1B9E77"/>
<rect x="1098" y="754" width="2" height="11" fill="#D95F02"/>
<rect x="1098" y="785" width="2" height="19" fill="#D95F02"/>
<rect x="1089" y="766" width="21" height="18" fill="#D95F02" fill-opacity="0.5"/>
<rect x="1089" y="765" width="22" height="1" fill="#D95F02"/>
<rect x="1088" y="766" width="23" height="1" fill="#D95F02"/>
<rect x="1088" y="783" width="23" height="2" fill="#D95F02"/>
<rect x="1088" y="766" width="1" height="19" fill="#D95F02"/>
<rect x="1089" y="765" width="1" height="20" fill="#D95F02"/>
<rect x="1109" y="765" width="2" height="20" fill="#D95F02"/>
<rect x="1088" y="770" width="23" height="5" fill="#D95F02"/>
</g>
<rect x="792" y="709" width="335" height="1" fill="#333333"/>
<rect x="792" y="709" width="1" height="165" fill="#333333"/>
<rect x="1125" y="709" width="2" height="165" fill="#333333"/>
<rect x="792" y="872" width="335" height="2" fill="#333333"/>
<g clip-path="url(#c33)">
<rect x="1140" y="709" width="336" height="165" fill="#FFFFFF"/>
<rect x="1140" y="741" width="336" height="1" fill="#EBEBEB"/>
<rect x="1140" y="791" width="336" height="1" fill="#EBEBEB"/>
<rect x="1140" y="841" width="336" height="1" fill="#EBEBEB"/>
<rect x="1140" y="715" width="336" height="2" fill="#EBEBEB"/>
<rect x="1140" y="765" width="336" height="2" fill="#EBEBEB"/>
<rect x="1140" y="815" width="336" height="2" fill="#EBEBEB"/>
<rect x="1140" y="865" width="336" height="2" fill="#EBEBEB"/>
<rect x="1178" y="709" width="2" height="165" fill="#EBEBEB"/>
<rect x="1242" y="709" width="2" height="165" fill="#EBEBEB"/>
<rect x="1306" y="709" width="2" height="165" fill="#EBEBEB"/>
<rect x="1371" y="709" width="2" height="165" fill="#EBEBEB"/>
<rect x="1435" y="709" width="2" height="165" fill="#EBEBEB"/>
<rect x="1140" y="740" width="8" height="2" fill="#000000"/>
<rect x="1156" y="740" width="8" height="2" fill="#000000"/>
<rect x="1172" y="740" width="8" height="2" fill="#000000"/>
<rect x="1188" y="740" width="8" height="2" fill="#000000"/>
<rect x="1204" y="740" width="8" height="2" fill="#000000"/>
<rect x="1220" y="740" width="8" height="2" fill="#000000"/>
<rect x="1236" y="740" width="8" height="2" fill="#000000"/>
<rect x="1252" y="740" width="8" height="2" fill="#000000"/>
<rect x="1268" y="740" width="8" height="2" fill="#000000"/>
<rect x="1284" y="740" width="8" height="2" fill="#000000"/>
<rect x="1300" y="740" width="8" height="2" fill="#000000"/>
<rect x="1316" y="740" width="8" height="2" fill="#000000"/>
<rect x="1332" y="740" width="8" height="2" fill="#000000"/>
<rect x="1348" y="740" width="8" height="2" fill="#000000"/>
<rect x="1364" y="740" width="8" height="2" fill="#000000"/>
<rect x="1380" y="740" width="8" height="2" fill="#000000"/>
<rect x="1396" y="740" width="8" height="2" fill="#000000"/>
<rect x="1412" y="740" width="8" height="2" fill="#000000"/>
<rect x="1428" y="740" width="8" height="2" fill="#000000"/>
<rect x="1444" y="740" width="8" height="2" fill="#000000"/>
<rect x="1460" y="740" width="8" height="2" fill="#000000"/>
<rect x="1166" y="770" width="2" height="11" fill="#1B9E77"/>
<rect x="1166" y="795" width="2" height="12" fill="#1B9E77"/>
<rect x="1156" y="782" width="22" height="12" fill="#1B9E77" fill-opacity="0.5"/>
<rect x="1156" y="781" width="23" height="1" fill="#1B9E77"/>
<rect x="1155" y="782" width="24" height="1" fill="#1B9E77"/>
<rect x="1155" y="793" width="24" height="2" fill="#1B9E77"/>
<rect x="1155" y="782" width="1" height="13" fill="#1B9E77"/>
<rect x="1156" y="781" width="1" height="14" fill="#1B9E77"/>
<rect x="1177" y="781" width="2" height="14" fill="#1B9E77"/>
<rect x="1155" y="785" width="24" height="5" fill="#1B9E77"/>
<rect x="1190" y="809" width="2" height="10" fill="#D95F02"/>
<rect x="1190" y="843" width="2" height="62" fill="#D95F02"/>
<rect x="1180" y="820" width="22" height="22" fill="#D95F02" fill-opacity="0.5"/>
<rect x="1180" y="819" width="23" height="1" fill="#D95F02"/>
<rect x="1179" y="820" width="24" height="1" fill="#D95F02"/>
<rect x="1179" y="841" width="24" height="2" fill="#D95F02"/>
<rect x="1179" y="820" width="1" height="23" fill="#D95F02"/>
<rect x="1180" y="819" width="1" height="24" fill="#D95F02"/>
<rect x="1201" y="819" width="2" height="24" fill="#D95F02"/>
<rect x="1179" y="827" width="24" height="5" fill="#D95F02"/>
<rect x="1230" y="753" width="2" height="8" fill="#1B9E77"/>
<rect x="1230" y="774" width="2" height="5" fill="#1B9E77"/>
<rect x="1220" y="762" width="22" height="11" fill="#1B9E77" fill-opacity="0.5"/>
<rect x="1220" y="761" width="23" height="1" fill="#1B9E77"/>
<rect x="1219" y="762" width="24" height="1" fill="#1B9E77"/>
<rect x="1219" y="772" width="24" height="2" fill="#1B9E77"/>
<rect x="1219" y="762" width="1" height="12" fill="#1B9E77"/>
<rect x="1220" y="761" width="1" height="13" fill="#1B9E77"/>
<rect x="1241" y="761" width="2" height="13" fill="#1B9E77"/>
<rect x="1219" y="765" width="24" height="5" fill="#1B9E77"/>
<rect x="1254" y="785" width="2" height="9" fill="#D95F02"/>
<rect x="1254" y="828" width="2" height="77" fill="#D95F02"/>
<rect x="1244" y="795" width="22" height="32" fill="#D95F02" fill-opacity="0.5"/>
<rect x="1244" y="794" width="23" height="1" fill="#D95F02"/>
<rect x="1243" y="795" width="24" height="1" fill="#D95F02"/>
<rect x="1243" y="826" width="24" height="2" fill="#D95F02"/>
<rect x="1243" y="795" width="1" height="33" fill="#D95F02"/>
<rect x="1244" y="794" width="1" height="34" fill="#D95F02"/>
<rect x="1265" y="794" width="2" height="34" fill="#D95F02"/>
<rect x="1243" y="805" width="24" height="5" fill="#D95F02"/>
<rect x="1294" y="744" width="2" height="4" fill="#1B9E77"/>
<rect x="1294" y="762" width="2" height="9" fill="#1B9E77"/>
<rect x="1285" y="749" width="21" height="12" fill="#1B9E77" fill-opacity="0.5"/>
<rect x="1285" y="748" width="22" height="1" fill="#1B9E77"/>
<rect x="1284" y="749" width="23" height="1" fill="#1B9E77"/>
<rect x="1284" y="760" width="23" height="2" fill="#1B9E77"/>
<rect x="1284" y="749" width="1" height="13" fill="#1B9E77"/>
<rect x="1285" y="748" width="1" height="14" fill="#1B9E77"/>
<rect x="1305" y="748" width="2" height="14" fill="#1B9E77"/>
<rect x="1284" y="752" width="23" height="5" fill="#1B9E77"/>
<rect x="1319" y="759" width="2" height="18" fill="#D95F02"/>
<rect x="1319" y="805" width="2" height="100" fill="#D95F02"/>
<rect x="1309" y="778" width="21" height="26" fill="#D95F02" fill-opacity="0.5"/>
<rect x="1309" y="777" width="22" height="1" fill="#D95F02"/>
<rect x="1308" y="778" width="23" height="1" fill="#D95F02"/>
<rect x="1308" y="803" width="23" height="2" fill="#D95F02"/>
<rect x="1308" y="778" width="1" height="27" fill="#D95F02"/>
<rect x="1309" y="777" width="1" height="28" fill="#D95F02"/>
<rect x="1329" y="777" width="2" height="28" fill="#D95F02"/>
<rect x="1308" y="784" width="23" height="5" fill="#D95F02"/>
<rect x="1359" y="740" width="2" height="4" fill="#1B9E77"/>
<rect x="1359" y="759" width="2" height="11" fill="#1B9E77"/>
<rect x="1349" y="745" width="22" height="13" fill="#1B9E77" fill-opacity="0.5"/>
<rect x="1349" y="744" width="23" height="1" fill="#1B9E77"/>
<rect x="1348" y="745" width="24" height="1" fill="#1B9E77"/>
<rect x="1348" y="757" width="24" height="2" fill="#1B9E77"/>
<rect x="1348" y="745" width="1" height="14" fill="#1B9E77"/>
<rect x="1349" y="744" width="1" height="15" fill="#1B9E77"/>
<rect x="1370" y="744" width="2" height="15" fill="#1B9E77"/>
<rect x="1348" y="748" width="24" height="5" fill="#1B9E77"/>
<rect x="1383" y="756" width="2" height="13" fill="#D95F02"/>
<rect x="1383" y="802" width="2" height="103" fill="#D95F02"/>
<rect x="1373" y="770" width="22" height="31" fill="#D95F02" fill-opacity="0.5"/>
<rect x="1373" y="769" width="23" height="1" fill="#D95F02"/>
<rect x="1372" y="770" width="24" height="1" fill="#D95F02"/>
<rect x="1372" y="800" width="24" height="2" fill="#D95F02"/>
<rect x="1372" y="770" width="1" height="32" fill="#D95F02"/>
<rect x="1373" y="769" width="1" height="33" fill="#D95F02"/>
<rect x="1394" y="769" width="2" height="33" fill="#D95F02"/>
<rect x="1372" y="784" width="24" height="5" fill="#D95F02"/>
<rect x="1423" y="739" width="2" height="5" fill="#1B9E77"/>
<rect x="1423" y="754" width="2" height="16" fill="#1B9E77"/>
<rect x="1413" y="745" width="22" height="8" fill="#1B9E77" fill-opacity="0.5"/>
<rect x="1413" y="744" width="23" height="1" fill="#1B9E77"/>
<rect x="1412" y="745" width="24" height="1" fill="#1B9E77"/>
<rect x="1412" y="752" width="24" height="2" fill="#1B9E77"/>
<rect x="1412" y="745" width="1" height="9" fill="#1B9E77"/>
<rect x="1413" y="744" width="1" height="10" fill="#1B9E77"/>
<rect x="1434" y="744" width="2" height="10" fill="#1B9E77"/>
<rect x="1412" y="747" width="24" height="5" fill="#1B9E77"/>
<rect x="1447" y="754" width="2" height="13" fill="#D95F02"/>
<rect x="1447" y="797" width="2" height="108" fill="#D95F02"/>
<rect x="1437" y="768" width="22" height="28" fill="#D95F02" fill-opacity="0.5"/>
<rect x="1437" y="767" width="23" height="1" fill="#D95F02"/>
<rect x="1436" y="768" width="24" height="1" fill="#D95F02"/>
<rect x="1436" y="795" width="24" height="2" fill="#D95F02"/>
<rect x="1436" y="768" width="1" height="29" fill="#D95F02"/>
<rect x="1437" y="767" width="1" height="30" fill="#D95F02"/>
<rect x="1458" y="767" width="2" height="30" fill="#D95F02"/>
<rect x="1436" y="780" width="24" height="5" fill="#D95F02"/>
</g>
<rect x="1140" y="709" width="336" height="1" fill="#333333"/>
<rect x="1140" y="709" width="1" height="165" fill="#333333"/>
<rect x="1474" y="709" width="2" height="165" fill="#333333"/>
<rect x="1140" y="872" width="336" height="2" fill="#333333"/>
<rect x="87" y="715" width="8" height="2" fill="#333333"/>
<rect x="87" y="765" width="8" height="2" fill="#333333"/>
<rect x="87" y="815" width="8" height="2" fill="#333333"/>
<rect x="87" y="865" width="8" height="2" fill="#333333"/>
<rect x="132" y="874" width="2" height="7" fill="#333333"/>
<rect x="196" y="874" width="2" height="7" fill="#333333"/>
<rect x="261" y="874" width="2" height="7" fill="#333333"/>
<rect x="325" y="874" width="2" height="7" fill="#333333"/>
<rect x="389" y="874" width="2" height="7" fill="#333333"/>
<rect x="481" y="874" width="2" height="7" fill="#333333"/>
<rect x="545" y="874" width="2" height="7" fill="#333333"/>
<rect x="609" y="874" width="2" height="7" fill="#333333"/>
<rect x="673" y="874" width="2" height="7" fill="#333333"/>
<rect x="738" y="874" width="2" height="7" fill="#333333"/>
<rect x="829" y="874" width="2" height="7" fill="#333333"/>
<rect x="894" y="874" width="2" height="7" fill="#333333"/>
<rect x="958" y="874" width="2" height="7" fill="#333333"/>
<rect x="1022" y="874" width="2" height="7" fill="#333333"/>
<rect x="1086" y="874" width="2" height="7" fill="#333333"/>
<rect x="1178" y="874" width="2" height="7" fill="#333333"/>
<rect x="1242" y="874" width="2" height="7" fill="#333333"/>
<rect x="1306" y="874" width="2" height="7" fill="#333333"/>
<rect x="1371" y="874" width="2" height="7" fill="#333333"/>
<rect x="1435" y="874" width="2" height="7" fill="#333333"/>
<rect x="752" y="33" width="2" height="6" fill="#1B9E77"/>
<rect x="752" y="64" width="2" height="6" fill="#1B9E77"/>
<rect x="736" y="40" width="34" height="23" fill="#1B9E77" fill-opacity="0.5"/>
<rect x="736" y="39" width="35" height="1" fill="#1B9E77"/>
<rect x="735" y="40" width="36" height="1" fill="#1B9E77"/>
<rect x="735" y="62" width="36" height="2" fill="#1B9E77"/>
<rect x="735" y="40" width="1" height="24" fill="#1B9E77"/>
<rect x="736" y="39" width="1" height="25" fill="#1B9E77"/>
<rect x="769" y="39" width="2" height="25" fill="#1B9E77"/>
<rect x="735" y="51" width="36" height="2" fill="#1B9E77"/>
<rect x="876" y="33" width="2" height="6" fill="#D95F02"/>
<rect x="876" y="64" width="2" height="6" fill="#D95F02"/>
<rect x="860" y="40" width="34" height="23" fill="#D95F02" fill-opacity="0.5"/>
<rect x="860" y="39" width="35" height="1" fill="#D95F02"/>
<rect x="859" y="40" width="36" height="1" fill="#D95F02"/>
<rect x="859" y="62" width="36" height="2" fill="#D95F02"/>
<rect x="859" y="40" width="1" height="24" fill="#D95F02"/>
<rect x="860" y="39" width="1" height="25" fill="#D95F02"/>
<rect x="893" y="39" width="2" height="25" fill="#D95F02"/>
<rect x="859" y="51" width="36" height="2" fill="#D95F02"/>
</g>
<text x="81" y="187.6" font-size="23.47" fill="#4D4D4D" text-anchor="end" font-family="'Liberation Sans', Arial, sans-serif">1.0</text>
<text x="81" y="236.6" font-size="23.47" fill="#4D4D4D" text-anchor="end" font-family="'Liberation Sans', Arial, sans-serif">0.9</text>
<text x="81" y="286.6" font-size="23.47" fill="#4D4D4D" text-anchor="end" font-family="'Liberation Sans', Arial, sans-serif">0.8</text>
<text x="81" y="336.6" font-size="23.47" fill="#4D4D4D" text-anchor="end" font-family="'Liberation Sans', Arial, sans-serif">0.7</text>
<text x="81" y="366.6" font-size="23.47" fill="#4D4D4D" text-anchor="end" font-family="'Liberation Sans', Arial, sans-serif">1.0</text>
<text x="81" y="416.6" font-size="23.47" fill="#4D4D4D" text-anchor="end" font-family="'Liberation Sans', Arial, sans-serif">0.9</text>
<text x="81" y="466.6" font-size="23.47" fill="#4D4D4D" text-anchor="end" font-family="'Liberation Sans', Arial, sans-serif">0.8</text>
<text x="81" y="516.6" font-size="23.47" fill="#4D4D4D" text-anchor="end" font-family="'Liberation Sans', Arial, sans-serif">0.7</text>
<text x="81" y="546.6" font-size="23.47" fill="#4D4D4D" text-anchor="end" font-family="'Liberation Sans', Arial, sans-serif">1.0</text>
<text x="81" y="595.6" font-size="23.47" fill="#4D4D4D" text-anchor="end" font-family="'Liberation Sans', Arial, sans-serif">0.9</text>
<text x="81" y="645.6" font-size="23.47" fill="#4D4D4D" text-anchor="end" font-family="'Liberation Sans', Arial, sans-serif">0.8</text>
<text x="81" y="695.6" font-size="23.47" fill="#4D4D4D" text-anchor="end" font-family="'Liberation Sans', Arial, sans-serif">0.7</text>
<text x="81" y="725.6" font-size="23.47" fill="#4D4D4D" text-anchor="end" font-family="'Liberation Sans', Arial, sans-serif">1.0</text>
<text x="81" y="775.6" font-size="23.47" fill="#4D4D4D" text-anchor="end" font-family="'Liberation Sans', Arial, sans-serif">0.9</text>
<text x="81" y="825.6" font-size="23.47" fill="#4D4D4D" text-anchor="end" font-family="'Liberation Sans', Arial, sans-serif">0.8</text>
<text x="81" y="875.6" font-size="23.47" fill="#4D4D4D" text-anchor="end" font-family="'Liberation Sans', Arial, sans-serif">0.7</text>
<text x="133" y="905.5" font-size="23.47" fill="#4D4D4D" text-anchor="middle" font-family="'Liberation Sans', Arial, sans-serif">15</text>
<text x="197" y="905.5" font-size="23.47" fill="#4D4D4D" text-anchor="middle" font-family="'Liberation Sans', Arial, sans-serif">30</text>
<text x="262" y="905.5" font-size="23.47" fill="#4D4D4D" text-anchor="middle" font-family="'Liberation Sans', Arial, sans-serif">60</text>
<text x="326" y="905.5" font-size="23.47" fill="#4D4D4D" text-anchor="middle" font-family="'Liberation Sans', Arial, sans-serif">90</text>
<text x="390" y="905.5" font-size="23.47" fill="#4D4D4D" text-anchor="middle" font-family="'Liberation Sans', Arial, sans-serif">120</text>
<text x="482" y="905.5" font-size="23.47" fill="#4D4D4D" text-anchor="middle" font-family="'Liberation Sans', Arial, sans-serif">15</text>
<text x="546" y="905.5" font-size="23.47" fill="#4D4D4D" text-anchor="middle" font-family="'Liberation Sans', Arial, sans-serif">30</text>
<text x="610" y="905.5" font-size="23.47" fill="#4D4D4D" text-anchor="middle" font-family="'Liberation Sans', Arial, sans-serif">60</text>
<text x="674" y="905.5" font-size="23.47" fill="#4D4D4D" text-anchor="middle" font-family="'Liberation Sans', Arial, sans-serif">90</text>
<text x="739" y="905.5" font-size="23.47" fill="#4D4D4D" text-anchor="middle" font-family="'Liberation Sans', Arial, sans-serif">120</text>
<text x="830" y="905.5" font-size="23.47" fill="#4D4D4D" text-anchor="middle" font-family="'Liberation Sans', Arial, sans-serif">15</text>
<text x="895" y="905.5" font-size="23.47" fill="#4D4D4D" text-anchor="middle" font-family="'Liberation Sans', Arial, sans-serif">30</text>
<text x="959" y="905.5" font-size="23.47" fill="#4D4D4D" text-anchor="middle" font-family="'Liberation Sans', Arial, sans-serif">60</text>
<text x="1023" y="905.5" font-size="23.47" fill="#4D4D4D" text-anchor="middle" font-family="'Liberation Sans', Arial, sans-serif">90</text>
<text x="1087" y="905.5" font-size="23.47" fill="#4D4D4D" text-anchor="middle" font-family="'Liberation Sans', Arial, sans-serif">120</text>
<text x="1179" y="905.5" font-size="23.47" fill="#4D4D4D" text-anchor="middle" font-family="'Liberation Sans', Arial, sans-serif">15</text>
<text x="1243" y="905.5" font-size="23.47" fill="#4D4D4D" text-anchor="middle" font-family="'Liberation Sans', Arial, sans-serif">30</text>
<text x="1307" y="905.5" font-size="23.47" fill="#4D4D4D" text-anchor="middle" font-family="'Liberation Sans', Arial, sans-serif">60</text>
<text x="1372" y="905.5" font-size="23.47" fill="#4D4D4D" text-anchor="middle" font-family="'Liberation Sans', Arial, sans-serif">90</text>
<text x="1436" y="905.5" font-size="23.47" fill="#4D4D4D" text-anchor="middle" font-family="'Liberation Sans', Arial, sans-serif">120</text>
<text x="785.5" y="940" font-size="29.33" fill="#000" text-anchor="middle" font-family="'Liberation Sans', Arial, sans-serif">Number of studies (J)</text>
<text transform="translate(37.2,521.5) rotate(-90)" font-size="29.33" fill="#000" text-anchor="middle" font-family="'Liberation Sans', Arial, sans-serif">Coverage rate</text>
<text x="591" y="64.2" font-size="29.33" fill="#000" text-anchor="start" font-family="'Liberation Sans', Arial, sans-serif">Estimator</text>
<text x="790.9" y="62" font-size="23.1" fill="#000" text-anchor="start" font-family="'Liberation Sans', Arial, sans-serif">CML</text>
<text x="915.6" y="62" font-size="23.0" fill="#000" text-anchor="start" font-family="'Liberation Sans', Arial, sans-serif">ARGL</text>
<text transform="translate(235.7,151.7) scale(1.12,1)" font-size="23.47" fill="#1A1A1A" font-family="'Liberation Serif', 'DejaVu Serif', serif">μ</text>
<text transform="translate(255.4,155.2) scale(1.1,1)" font-size="23.47" fill="#1A1A1A" font-family="'Liberation Serif', 'DejaVu Serif', serif">=</text>
<text x="274.1" y="151.7" font-size="23.47" fill="#1A1A1A" text-anchor="start" font-family="'Liberation Sans', Arial, sans-serif">0</text>
<text transform="translate(574.6,151.7) scale(1.12,1)" font-size="23.47" fill="#1A1A1A" font-family="'Liberation Serif', 'DejaVu Serif', serif">μ</text>
<text transform="translate(594.3,155.2) scale(1.1,1)" font-size="23.47" fill="#1A1A1A" font-family="'Liberation Serif', 'DejaVu Serif', serif">=</text>
<text x="612.6" y="151.7" font-size="23.47" fill="#1A1A1A" text-anchor="start" font-family="'Liberation Sans', Arial, sans-serif">0.2</text>
<text transform="translate(923.6,151.7) scale(1.12,1)" font-size="23.47" fill="#1A1A1A" font-family="'Liberation Serif', 'DejaVu Serif', serif">μ</text>
<text transform="translate(943.3,155.2) scale(1.1,1)" font-size="23.47" fill="#1A1A1A" font-family="'Liberation Serif', 'DejaVu Serif', serif">=</text>
<text x="961.6" y="151.7" font-size="23.47" fill="#1A1A1A" text-anchor="start" font-family="'Liberation Sans', Arial, sans-serif">0.4</text>
<text transform="translate(1272.6,151.7) scale(1.12,1)" font-size="23.47" fill="#1A1A1A" font-family="'Liberation Serif', 'DejaVu Serif', serif">μ</text>
<text transform="translate(1292.3,155.2) scale(1.1,1)" font-size="23.47" fill="#1A1A1A" font-family="'Liberation Serif', 'DejaVu Serif', serif">=</text>
<text x="1310.6" y="151.7" font-size="23.47" fill="#1A1A1A" text-anchor="start" font-family="'Liberation Sans', Arial, sans-serif">0.8</text>
<g transform="translate(1487.7,215.15) rotate(90)" font-size="23.47" fill="#1A1A1A">
<text x="-0.5" y="0" font-family="'Liberation Serif', 'DejaVu Serif', serif">τ</text>
<text transform="translate(12.8,-0.55) scale(1.1,0.75)" font-family="'Liberation Serif', 'DejaVu Serif', serif">=</text>
<text x="30.35" y="0" font-family="'Liberation Sans', Arial, sans-serif">0.05</text>
</g>
<g transform="translate(1487.7,393.55) rotate(90)" font-size="23.47" fill="#1A1A1A">
<text x="-0.5" y="0" font-family="'Liberation Serif', 'DejaVu Serif', serif">τ</text>
<text transform="translate(12.5,-0.55) scale(1.1,0.75)" font-family="'Liberation Serif', 'DejaVu Serif', serif">=</text>
<text x="29.85" y="0" font-family="'Liberation Sans', Arial, sans-serif">0.15</text>
</g>
<g transform="translate(1487.7,579.85) rotate(90)" font-size="23.47" fill="#1A1A1A">
<text x="-0.5" y="0" font-family="'Liberation Serif', 'DejaVu Serif', serif">τ</text>
<text transform="translate(12.4,-0.55) scale(1.1,0.75)" font-family="'Liberation Serif', 'DejaVu Serif', serif">=</text>
<text x="31.85" y="0" font-family="'Liberation Sans', Arial, sans-serif">0.3</text>
</g>
<g transform="translate(1487.7,752.55) rotate(90)" font-size="23.47" fill="#1A1A1A">
<text x="-0.5" y="0" font-family="'Liberation Serif', 'DejaVu Serif', serif">τ</text>
<text transform="translate(12.2,-0.55) scale(1.1,0.75)" font-family="'Liberation Serif', 'DejaVu Serif', serif">=</text>
<text x="31.35" y="0" font-family="'Liberation Sans', Arial, sans-serif">0.45</text>
</g>
</svg></body></html>
